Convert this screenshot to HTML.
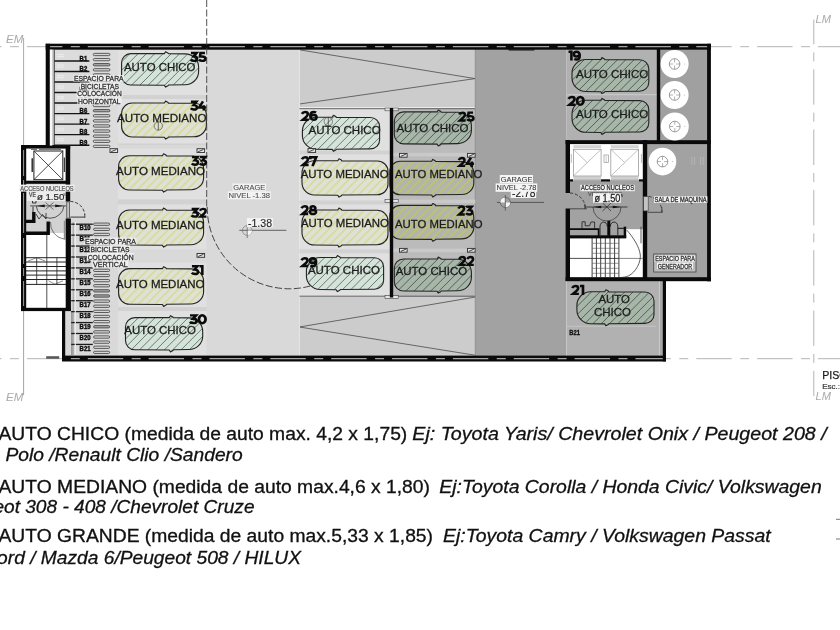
<!DOCTYPE html>
<html><head><meta charset="utf-8"><title>Garage plan</title>
<style>html,body{margin:0;padding:0;background:#fff;}body{width:840px;height:630px;overflow:hidden;position:relative;}svg{display:block;position:absolute;left:0;top:0;font-family:"Liberation Sans", sans-serif;will-change:transform;}text{white-space:pre;}</style></head><body>
<svg width="840" height="630" viewBox="0 0 840 630">
<rect x="0.00" y="0.00" width="840.00" height="630.00" fill="#ffffff" />
<line x1="0.00" y1="46.70" x2="840.00" y2="46.70" stroke="#b4b4b4" stroke-width="1.0" stroke-dasharray="35.4 8.45 9 8" stroke-dashoffset="-26.96"/>
<line x1="0.00" y1="358.70" x2="840.00" y2="358.70" stroke="#b4b4b4" stroke-width="1.0" stroke-dasharray="35.4 8.45 9 8" stroke-dashoffset="-26.96"/>
<line x1="23.60" y1="38.00" x2="23.60" y2="146.00" stroke="#a0a0a0" stroke-width="0.9" />
<line x1="23.60" y1="311.00" x2="23.60" y2="395.00" stroke="#989898" stroke-width="0.9" />
<line x1="813.80" y1="19.50" x2="813.80" y2="396.00" stroke="#b4b4b4" stroke-width="1.0" stroke-dasharray="35.4 8 9 7.9" stroke-dashoffset="-49.8"/>
<text x="6.00" y="42.90" font-size="11.3" fill="#a9a9a9" font-weight="normal" text-anchor="start" font-style="italic" textLength="17.3" lengthAdjust="spacingAndGlyphs">EM</text>
<text x="6.00" y="401.00" font-size="11.3" fill="#a9a9a9" font-weight="normal" text-anchor="start" font-style="italic" textLength="17.3" lengthAdjust="spacingAndGlyphs">EM</text>
<text x="815.60" y="22.90" font-size="11.3" fill="#a9a9a9" font-weight="normal" text-anchor="start" font-style="italic" textLength="15.4" lengthAdjust="spacingAndGlyphs">LM</text>
<text x="815.60" y="400.00" font-size="11.3" fill="#a9a9a9" font-weight="normal" text-anchor="start" font-style="italic" textLength="15.4" lengthAdjust="spacingAndGlyphs">LM</text>
<text x="822.20" y="378.70" font-size="10.6" fill="#1a1a1a" font-weight="normal" text-anchor="start" font-style="normal" stroke="#1a1a1a" stroke-width="0.25">PISO</text>
<text x="822.20" y="389.20" font-size="8" fill="#333" font-weight="normal" text-anchor="start" font-style="normal" stroke="#333" stroke-width="0.2">Esc.:</text>
<line x1="836.00" y1="519.30" x2="840.00" y2="519.30" stroke="#666" stroke-width="0.9" />
<line x1="836.00" y1="539.00" x2="840.00" y2="539.00" stroke="#666" stroke-width="0.9" />
<rect x="50.00" y="49.00" width="249.50" height="97.00" fill="#d9d9d9" />
<rect x="70.00" y="145.00" width="229.50" height="167.00" fill="#d9d9d9" />
<rect x="64.00" y="310.00" width="235.50" height="46.00" fill="#d9d9d9" />
<rect x="299.50" y="49.00" width="175.80" height="59.50" fill="#cccccc" />
<rect x="299.50" y="297.00" width="175.80" height="59.00" fill="#cccccc" />
<rect x="299.50" y="108.50" width="90.50" height="188.50" fill="#e0e0e0" />
<rect x="393.00" y="108.50" width="82.30" height="188.50" fill="#bbbbbb" />
<rect x="475.30" y="49.00" width="233.50" height="232.00" fill="#a2a2a2" />
<rect x="475.30" y="280.00" width="188.70" height="76.00" fill="#a2a2a2" />
<rect x="26.00" y="183.00" width="40.00" height="50.00" fill="#d2d2d2" />
<rect x="118.00" y="49.50" width="88.40" height="45.50" fill="#e0e0e0" />
<rect x="118.00" y="99.00" width="88.40" height="44.60" fill="#e0e0e0" />
<rect x="118.00" y="148.50" width="88.40" height="51.00" fill="#e0e0e0" />
<rect x="118.00" y="204.30" width="88.40" height="45.20" fill="#e0e0e0" />
<rect x="118.00" y="262.50" width="88.40" height="44.50" fill="#e0e0e0" />
<rect x="118.00" y="311.00" width="88.40" height="44.50" fill="#e0e0e0" />
<rect x="118.00" y="95.00" width="88.40" height="4.00" fill="#d2d2d2" />
<rect x="118.00" y="143.60" width="88.40" height="1.60" fill="#d2d2d2" />
<rect x="118.00" y="199.50" width="88.40" height="4.80" fill="#d2d2d2" />
<rect x="118.00" y="307.00" width="88.40" height="4.00" fill="#d2d2d2" />
<rect x="50.00" y="49.50" width="68.00" height="100.00" fill="#dcdcdc" />
<line x1="299.50" y1="49.80" x2="475.00" y2="78.60" stroke="#4a4a4a" stroke-width="0.8" />
<line x1="299.50" y1="104.00" x2="475.00" y2="78.60" stroke="#4a4a4a" stroke-width="0.8" />
<line x1="299.50" y1="327.00" x2="475.50" y2="297.00" stroke="#4a4a4a" stroke-width="0.8" />
<line x1="299.50" y1="327.00" x2="475.50" y2="355.30" stroke="#4a4a4a" stroke-width="0.8" />
<line x1="299.50" y1="107.50" x2="475.30" y2="107.50" stroke="#ececec" stroke-width="1" />
<line x1="299.50" y1="108.70" x2="475.30" y2="108.70" stroke="#555" stroke-width="0.9" />
<line x1="299.50" y1="296.20" x2="475.30" y2="296.20" stroke="#555" stroke-width="0.9" />
<line x1="299.50" y1="49.00" x2="299.50" y2="108.00" stroke="#e4e4e4" stroke-width="1" />
<line x1="299.50" y1="297.00" x2="299.50" y2="356.00" stroke="#e4e4e4" stroke-width="1" />
<line x1="475.30" y1="49.00" x2="475.30" y2="356.00" stroke="#8e8e8e" stroke-width="1" />
<rect x="299.50" y="150.50" width="90.50" height="4.00" fill="#d2d2d2" />
<rect x="299.50" y="200.50" width="90.50" height="4.00" fill="#d2d2d2" />
<rect x="299.50" y="249.30" width="90.50" height="4.00" fill="#d2d2d2" />
<rect x="393.00" y="152.80" width="82.30" height="3.60" fill="#c9c9c9" />
<rect x="393.00" y="199.60" width="82.30" height="3.60" fill="#c9c9c9" />
<rect x="393.00" y="248.60" width="82.30" height="3.60" fill="#c9c9c9" />
<rect x="566.50" y="49.50" width="90.50" height="91.00" fill="#b1b1b1" />
<line x1="566.50" y1="94.70" x2="657.00" y2="94.70" stroke="#cfcfcf" stroke-width="0.9" />
<rect x="660.00" y="49.50" width="47.00" height="91.00" fill="#a0a0a0" />
<rect x="566.50" y="281.00" width="93.00" height="75.00" fill="#b1b1b1" />
<line x1="566.50" y1="326.30" x2="656.00" y2="326.30" stroke="#c6c6c6" stroke-width="0.9" />
<line x1="566.50" y1="281.00" x2="566.50" y2="356.00" stroke="#cdcdcd" stroke-width="0.8" />
<line x1="566.50" y1="49.50" x2="566.50" y2="140.00" stroke="#c2c2c2" stroke-width="0.8" />
<line x1="659.40" y1="281.00" x2="659.40" y2="356.00" stroke="#d0d0d0" stroke-width="0.9" />
<rect x="660.00" y="281.00" width="3.00" height="75.00" fill="#a8a8a8" />
<g id="walls">
<rect x="45.70" y="43.70" width="665.20" height="6.00" fill="#0a0a0a" />
<line x1="48.00" y1="46.70" x2="708.00" y2="46.70" stroke="#a6a6a6" stroke-width="1.3" stroke-dasharray="35.4 8.45 9 8" stroke-dashoffset="-39.81"/>
<rect x="508.60" y="49.40" width="25.70" height="1.10" fill="#0a0a0a" />
<rect x="62.00" y="355.60" width="604.00" height="5.90" fill="#0a0a0a" />
<line x1="64.00" y1="358.60" x2="664.00" y2="358.60" stroke="#a6a6a6" stroke-width="1.3" stroke-dasharray="35.4 8.45 9 8" stroke-dashoffset="-23.81"/>
<rect x="46.20" y="356.20" width="13.00" height="2.60" fill="#5a5a5a" />
<rect x="45.70" y="43.80" width="4.40" height="103.00" fill="#0a0a0a" />
<line x1="53.00" y1="49.50" x2="53.00" y2="146.00" stroke="#8a8a8a" stroke-width="0.8" />
<line x1="54.40" y1="49.50" x2="54.40" y2="146.00" stroke="#333" stroke-width="0.8" />
<rect x="62.00" y="310.00" width="3.20" height="50.00" fill="#0a0a0a" />
<rect x="26.00" y="148.00" width="40.00" height="34.00" fill="#ffffff" />
<rect x="26.00" y="235.00" width="40.00" height="73.00" fill="#ffffff" />
<rect x="21.00" y="145.00" width="49.20" height="3.60" fill="#0a0a0a" />
<rect x="21.00" y="145.00" width="5.20" height="166.00" fill="#0a0a0a" />
<rect x="26.00" y="180.70" width="44.00" height="3.10" fill="#0a0a0a" />
<rect x="65.60" y="145.00" width="4.60" height="56.50" fill="#0a0a0a" />
<rect x="65.70" y="218.50" width="5.20" height="92.50" fill="#0a0a0a" />
<rect x="66.80" y="201.80" width="2.50" height="16.40" fill="#d4d4d4" stroke="#2a2a2a" stroke-width="0.8"/>
<rect x="21.00" y="307.80" width="50.00" height="3.30" fill="#0a0a0a" />
<line x1="23.60" y1="150.00" x2="23.60" y2="306.00" stroke="#c8c8c8" stroke-width="0.8" stroke-dasharray="26 4 8 5 40 5"/>
<path d="M26,221.4 H33.8 V212" fill="none" stroke="#0a0a0a" stroke-width="3.4"/>
<path d="M26,233.2 H48.2 V221.5" fill="none" stroke="#0a0a0a" stroke-width="3.4"/>
<rect x="33.90" y="151.00" width="28.90" height="28.70" fill="#ffffff" stroke="#1f1f1f" stroke-width="1.0"/>
<line x1="33.90" y1="151.00" x2="62.80" y2="179.70" stroke="#2a2a2a" stroke-width="0.85" />
<line x1="62.80" y1="151.00" x2="33.90" y2="179.70" stroke="#2a2a2a" stroke-width="0.85" />
<line x1="32.20" y1="158.30" x2="32.20" y2="172.00" stroke="#222" stroke-width="1.4" />
<line x1="64.40" y1="157.50" x2="64.40" y2="172.00" stroke="#3a3a3a" stroke-width="1.3" />
<line x1="31.00" y1="149.30" x2="62.00" y2="149.30" stroke="#555" stroke-width="1.0" stroke-dasharray="6 2 22 3"/>
<line x1="26.00" y1="257.70" x2="66.00" y2="257.70" stroke="#161616" stroke-width="0.95" />
<line x1="26.00" y1="262.00" x2="66.00" y2="262.00" stroke="#161616" stroke-width="0.95" />
<line x1="26.00" y1="266.50" x2="66.00" y2="266.50" stroke="#161616" stroke-width="0.95" />
<line x1="26.00" y1="270.90" x2="66.00" y2="270.90" stroke="#161616" stroke-width="0.95" />
<line x1="26.00" y1="275.10" x2="66.00" y2="275.10" stroke="#161616" stroke-width="0.95" />
<line x1="26.00" y1="279.50" x2="66.00" y2="279.50" stroke="#161616" stroke-width="0.95" />
<line x1="26.00" y1="284.40" x2="66.00" y2="284.40" stroke="#161616" stroke-width="0.95" />
<line x1="36.70" y1="257.70" x2="36.70" y2="284.40" stroke="#222" stroke-width="0.8" />
<line x1="46.80" y1="235.00" x2="46.80" y2="308.00" stroke="#222" stroke-width="0.8" />
<line x1="56.90" y1="257.70" x2="56.90" y2="284.40" stroke="#222" stroke-width="0.8" />
<path d="M28,261 L36.7,257.7 L45,261" fill="none" stroke="#444" stroke-width="0.6"/>
<path d="M48.5,280.8 L55,284.2 L63,280.8" fill="none" stroke="#444" stroke-width="0.6"/>
<rect x="570.00" y="143.60" width="73.00" height="36.50" fill="#ffffff" />
<rect x="570.00" y="238.00" width="73.00" height="39.50" fill="#ffffff" />
<rect x="626.00" y="229.20" width="17.00" height="9.00" fill="#ffffff" />
<rect x="565.60" y="140.20" width="145.30" height="3.90" fill="#0a0a0a" />
<rect x="656.80" y="49.00" width="3.40" height="93.00" fill="#0a0a0a" />
<rect x="707.10" y="43.80" width="3.80" height="237.50" fill="#0a0a0a" />
<rect x="565.60" y="140.00" width="4.40" height="53.00" fill="#0a0a0a" />
<rect x="565.60" y="208.50" width="4.40" height="72.50" fill="#0a0a0a" />
<rect x="642.80" y="140.00" width="4.40" height="141.00" fill="#0a0a0a" />
<rect x="565.60" y="277.20" width="145.30" height="4.00" fill="#0a0a0a" />
<rect x="569.50" y="235.30" width="56.70" height="3.10" fill="#0a0a0a" />
<rect x="570.00" y="179.30" width="3.00" height="2.20" fill="#0a0a0a" />
<rect x="601.00" y="179.30" width="9.00" height="2.20" fill="#0a0a0a" />
<rect x="639.00" y="179.30" width="4.00" height="2.20" fill="#0a0a0a" />
<rect x="662.80" y="281.00" width="3.20" height="80.40" fill="#0a0a0a" />
<rect x="573.40" y="145.20" width="27.80" height="3.00" fill="#d4d4d4" />
<rect x="573.40" y="176.20" width="27.80" height="3.20" fill="#cfcfcf" />
<line x1="573.40" y1="179.60" x2="601.20" y2="179.60" stroke="#9a9a9a" stroke-width="0.6" />
<rect x="573.40" y="149.30" width="27.70" height="26.70" fill="#ffffff" stroke="#9c9c9c" stroke-width="0.8"/>
<line x1="573.40" y1="176.00" x2="601.10" y2="149.30" stroke="#a5a5a5" stroke-width="0.7" />
<line x1="573.40" y1="149.30" x2="587.20" y2="162.60" stroke="#a5a5a5" stroke-width="0.7" />
<rect x="610.80" y="145.20" width="27.80" height="3.00" fill="#d4d4d4" />
<rect x="610.80" y="176.20" width="27.80" height="3.20" fill="#cfcfcf" />
<line x1="610.80" y1="179.60" x2="638.60" y2="179.60" stroke="#9a9a9a" stroke-width="0.6" />
<rect x="610.80" y="149.30" width="27.70" height="26.70" fill="#ffffff" stroke="#9c9c9c" stroke-width="0.8"/>
<line x1="610.80" y1="176.00" x2="638.50" y2="149.30" stroke="#a5a5a5" stroke-width="0.7" />
<line x1="610.80" y1="149.30" x2="624.60" y2="162.60" stroke="#a5a5a5" stroke-width="0.7" />
<rect x="604.00" y="155.00" width="4.40" height="7.60" fill="#fff" stroke="#999" stroke-width="0.7"/>
<line x1="606.20" y1="155.50" x2="606.20" y2="162.00" stroke="#aaa" stroke-width="0.6" />
<line x1="571.30" y1="154.00" x2="571.30" y2="163.00" stroke="#bbb" stroke-width="1" />
<line x1="641.40" y1="154.00" x2="641.40" y2="163.00" stroke="#bbb" stroke-width="1" />
<line x1="592.10" y1="238.00" x2="592.10" y2="277.20" stroke="#1e1e1e" stroke-width="0.85" />
<line x1="596.40" y1="238.00" x2="596.40" y2="277.20" stroke="#1e1e1e" stroke-width="0.85" />
<line x1="600.70" y1="238.00" x2="600.70" y2="277.20" stroke="#1e1e1e" stroke-width="0.85" />
<line x1="605.30" y1="238.00" x2="605.30" y2="277.20" stroke="#1e1e1e" stroke-width="0.85" />
<line x1="610.00" y1="238.00" x2="610.00" y2="277.20" stroke="#1e1e1e" stroke-width="0.85" />
<line x1="614.60" y1="238.00" x2="614.60" y2="277.20" stroke="#1e1e1e" stroke-width="0.85" />
<line x1="618.90" y1="238.00" x2="618.90" y2="277.20" stroke="#1e1e1e" stroke-width="0.85" />
<line x1="592.10" y1="243.30" x2="618.90" y2="243.30" stroke="#555" stroke-width="0.6" />
<line x1="592.10" y1="248.30" x2="618.90" y2="248.30" stroke="#555" stroke-width="0.6" />
<line x1="592.10" y1="253.30" x2="618.90" y2="253.30" stroke="#555" stroke-width="0.6" />
<line x1="592.10" y1="263.30" x2="618.90" y2="263.30" stroke="#555" stroke-width="0.6" />
<line x1="592.10" y1="268.30" x2="618.90" y2="268.30" stroke="#555" stroke-width="0.6" />
<line x1="592.10" y1="273.30" x2="618.90" y2="273.30" stroke="#555" stroke-width="0.6" />
<line x1="570.00" y1="258.40" x2="592.10" y2="258.40" stroke="#222" stroke-width="0.8" />
<line x1="618.90" y1="258.40" x2="642.80" y2="258.40" stroke="#555" stroke-width="0.7" />
<line x1="592.10" y1="258.40" x2="618.90" y2="258.40" stroke="#222" stroke-width="0.8" />
<path d="M626.7,230 C633,237 639.5,247 640.3,255 C641,262 636,272 628.7,275.8 C626,277 623,277.4 620.3,277.5" fill="none" stroke="#2a2a2a" stroke-width="0.75"/>
<line x1="641.00" y1="226.70" x2="641.00" y2="243.30" stroke="#333" stroke-width="0.8" />
<path d="M570,229.2 H598.6 V236" fill="none" stroke="#0a0a0a" stroke-width="1.7"/>
<path d="M582,228.5 V221.8 H585.2 V225.8 H589.5 L591,222 H594.6 V228.5" fill="none" stroke="#1a1a1a" stroke-width="0.8"/>
<path d="M600,235 V226.5 C600.2,220.6 607,220.6 607.3,226.5" fill="none" stroke="#1a1a1a" stroke-width="0.9"/>
<path d="M610.3,226.5 C610.6,220.6 617.6,220.6 617.8,226.5 V235" fill="none" stroke="#1a1a1a" stroke-width="0.9"/>
<rect x="607.30" y="220.80" width="3.00" height="15.00" fill="#0a0a0a" />
<line x1="617.80" y1="228.30" x2="624.00" y2="228.30" stroke="#111" stroke-width="1.0" />
<rect x="623.70" y="226.70" width="2.50" height="11.20" fill="#0a0a0a" />
</g>
<g id="cars">
<clipPath id="cc1"><path d="M130.71,53.60 L164.40,53.60 l1.2,-1.9 l2.4,1.3 l0.5,0.8 L185.10,53.90 C192.52,53.90 198.60,59.68 198.60,67.10 L198.60,71.50 C198.60,78.92 192.52,84.70 185.10,84.70 L168.50,85.00 l-0.5,0.8 l-2.4,1.3 l-1.2,-1.9 L130.71,85.00 C125.70,85.00 121.60,80.90 121.60,75.89 L121.60,62.71 C121.60,57.70 125.70,53.60 130.71,53.60 Z"/></clipPath>
<path d="M130.71,53.60 L164.40,53.60 l1.2,-1.9 l2.4,1.3 l0.5,0.8 L185.10,53.90 C192.52,53.90 198.60,59.68 198.60,67.10 L198.60,71.50 C198.60,78.92 192.52,84.70 185.10,84.70 L168.50,85.00 l-0.5,0.8 l-2.4,1.3 l-1.2,-1.9 L130.71,85.00 C125.70,85.00 121.60,80.90 121.60,75.89 L121.60,62.71 C121.60,57.70 125.70,53.60 130.71,53.60 Z" fill="#d6e3da"/>
<path d="M87.19,88.00 l37.40,-37.40 M95.49,88.00 l37.40,-37.40 M103.79,88.00 l37.40,-37.40 M112.09,88.00 l37.40,-37.40 M120.39,88.00 l37.40,-37.40 M128.69,88.00 l37.40,-37.40 M136.99,88.00 l37.40,-37.40 M145.29,88.00 l37.40,-37.40 M153.59,88.00 l37.40,-37.40 M161.89,88.00 l37.40,-37.40 M170.19,88.00 l37.40,-37.40 M178.49,88.00 l37.40,-37.40 M186.79,88.00 l37.40,-37.40 M195.09,88.00 l37.40,-37.40" fill="none" stroke="#365241" stroke-width="0.7" clip-path="url(#cc1)"/>
<path d="M130.71,53.60 L164.40,53.60 l1.2,-1.9 l2.4,1.3 l0.5,0.8 L185.10,53.90 C192.52,53.90 198.60,59.68 198.60,67.10 L198.60,71.50 C198.60,78.92 192.52,84.70 185.10,84.70 L168.50,85.00 l-0.5,0.8 l-2.4,1.3 l-1.2,-1.9 L130.71,85.00 C125.70,85.00 121.60,80.90 121.60,75.89 L121.60,62.71 C121.60,57.70 125.70,53.60 130.71,53.60 Z" fill="none" stroke="#242424" stroke-width="1.12" stroke-linejoin="round"/>
<clipPath id="cc2"><path d="M132.14,103.00 L164.40,103.00 l1.2,-1.9 l2.4,1.3 l0.5,0.8 L194.16,103.30 C200.89,103.30 206.40,108.51 206.40,115.24 L206.40,124.76 C206.40,131.49 200.89,136.70 194.16,136.70 L168.50,137.00 l-0.5,0.8 l-2.4,1.3 l-1.2,-1.9 L132.14,137.00 C126.34,137.00 121.60,132.26 121.60,126.46 L121.60,113.54 C121.60,107.74 126.34,103.00 132.14,103.00 Z"/></clipPath>
<path d="M132.14,103.00 L164.40,103.00 l1.2,-1.9 l2.4,1.3 l0.5,0.8 L194.16,103.30 C200.89,103.30 206.40,108.51 206.40,115.24 L206.40,124.76 C206.40,131.49 200.89,136.70 194.16,136.70 L168.50,137.00 l-0.5,0.8 l-2.4,1.3 l-1.2,-1.9 L132.14,137.00 C126.34,137.00 121.60,132.26 121.60,126.46 L121.60,113.54 C121.60,107.74 126.34,103.00 132.14,103.00 Z" fill="#dfe0d6"/>
<path d="M89.82,140.00 l40.00,-40.00 M98.12,140.00 l40.00,-40.00 M106.42,140.00 l40.00,-40.00 M114.72,140.00 l40.00,-40.00 M123.02,140.00 l40.00,-40.00 M131.32,140.00 l40.00,-40.00 M139.62,140.00 l40.00,-40.00 M147.92,140.00 l40.00,-40.00 M156.22,140.00 l40.00,-40.00 M164.52,140.00 l40.00,-40.00 M172.82,140.00 l40.00,-40.00 M181.12,140.00 l40.00,-40.00 M189.42,140.00 l40.00,-40.00 M197.72,140.00 l40.00,-40.00 M206.02,140.00 l40.00,-40.00" fill="none" stroke="#d7dc98" stroke-width="1.7" clip-path="url(#cc2)"/>
<path d="M132.14,103.00 L164.40,103.00 l1.2,-1.9 l2.4,1.3 l0.5,0.8 L194.16,103.30 C200.89,103.30 206.40,108.51 206.40,115.24 L206.40,124.76 C206.40,131.49 200.89,136.70 194.16,136.70 L168.50,137.00 l-0.5,0.8 l-2.4,1.3 l-1.2,-1.9 L132.14,137.00 C126.34,137.00 121.60,132.26 121.60,126.46 L121.60,113.54 C121.60,107.74 126.34,103.00 132.14,103.00 Z" fill="none" stroke="#242424" stroke-width="1.12" stroke-linejoin="round"/>
<circle cx="158.3" cy="126" r="4.2" fill="none" stroke="#444" stroke-width="0.6"/>
<line x1="158.30" y1="121.40" x2="158.30" y2="130.20" stroke="#333" stroke-width="0.7" />
<clipPath id="cc3"><path d="M129.23,155.70 L162.40,155.70 l1.2,-1.9 l2.4,1.3 l0.5,0.8 L191.25,156.00 C198.04,156.00 203.60,161.26 203.60,168.05 L203.60,177.65 C203.60,184.44 198.04,189.70 191.25,189.70 L166.50,190.00 l-0.5,0.8 l-2.4,1.3 l-1.2,-1.9 L129.23,190.00 C123.38,190.00 118.60,185.22 118.60,179.37 L118.60,166.33 C118.60,160.48 123.38,155.70 129.23,155.70 Z"/></clipPath>
<path d="M129.23,155.70 L162.40,155.70 l1.2,-1.9 l2.4,1.3 l0.5,0.8 L191.25,156.00 C198.04,156.00 203.60,161.26 203.60,168.05 L203.60,177.65 C203.60,184.44 198.04,189.70 191.25,189.70 L166.50,190.00 l-0.5,0.8 l-2.4,1.3 l-1.2,-1.9 L129.23,190.00 C123.38,190.00 118.60,185.22 118.60,179.37 L118.60,166.33 C118.60,160.48 123.38,155.70 129.23,155.70 Z" fill="#dfe0d6"/>
<path d="M84.36,193.00 l40.30,-40.30 M92.66,193.00 l40.30,-40.30 M100.96,193.00 l40.30,-40.30 M109.26,193.00 l40.30,-40.30 M117.56,193.00 l40.30,-40.30 M125.86,193.00 l40.30,-40.30 M134.16,193.00 l40.30,-40.30 M142.46,193.00 l40.30,-40.30 M150.76,193.00 l40.30,-40.30 M159.06,193.00 l40.30,-40.30 M167.36,193.00 l40.30,-40.30 M175.66,193.00 l40.30,-40.30 M183.96,193.00 l40.30,-40.30 M192.26,193.00 l40.30,-40.30 M200.56,193.00 l40.30,-40.30" fill="none" stroke="#d7dc98" stroke-width="1.7" clip-path="url(#cc3)"/>
<path d="M129.23,155.70 L162.40,155.70 l1.2,-1.9 l2.4,1.3 l0.5,0.8 L191.25,156.00 C198.04,156.00 203.60,161.26 203.60,168.05 L203.60,177.65 C203.60,184.44 198.04,189.70 191.25,189.70 L166.50,190.00 l-0.5,0.8 l-2.4,1.3 l-1.2,-1.9 L129.23,190.00 C123.38,190.00 118.60,185.22 118.60,179.37 L118.60,166.33 C118.60,160.48 123.38,155.70 129.23,155.70 Z" fill="none" stroke="#242424" stroke-width="1.12" stroke-linejoin="round"/>
<clipPath id="cc4"><path d="M129.45,210.00 L162.40,210.00 l1.2,-1.9 l2.4,1.3 l0.5,0.8 L191.00,210.30 C197.93,210.30 203.60,215.67 203.60,222.60 L203.60,232.40 C203.60,239.33 197.93,244.70 191.00,244.70 L166.50,245.00 l-0.5,0.8 l-2.4,1.3 l-1.2,-1.9 L129.45,245.00 C123.48,245.00 118.60,240.12 118.60,234.15 L118.60,220.85 C118.60,214.88 123.48,210.00 129.45,210.00 Z"/></clipPath>
<path d="M129.45,210.00 L162.40,210.00 l1.2,-1.9 l2.4,1.3 l0.5,0.8 L191.00,210.30 C197.93,210.30 203.60,215.67 203.60,222.60 L203.60,232.40 C203.60,239.33 197.93,244.70 191.00,244.70 L166.50,245.00 l-0.5,0.8 l-2.4,1.3 l-1.2,-1.9 L129.45,245.00 C123.48,245.00 118.60,240.12 118.60,234.15 L118.60,220.85 C118.60,214.88 123.48,210.00 129.45,210.00 Z" fill="#dfe0d6"/>
<path d="M83.58,248.00 l41.00,-41.00 M91.88,248.00 l41.00,-41.00 M100.18,248.00 l41.00,-41.00 M108.48,248.00 l41.00,-41.00 M116.78,248.00 l41.00,-41.00 M125.08,248.00 l41.00,-41.00 M133.38,248.00 l41.00,-41.00 M141.68,248.00 l41.00,-41.00 M149.98,248.00 l41.00,-41.00 M158.28,248.00 l41.00,-41.00 M166.58,248.00 l41.00,-41.00 M174.88,248.00 l41.00,-41.00 M183.18,248.00 l41.00,-41.00 M191.48,248.00 l41.00,-41.00 M199.78,248.00 l41.00,-41.00" fill="none" stroke="#d7dc98" stroke-width="1.7" clip-path="url(#cc4)"/>
<path d="M129.45,210.00 L162.40,210.00 l1.2,-1.9 l2.4,1.3 l0.5,0.8 L191.00,210.30 C197.93,210.30 203.60,215.67 203.60,222.60 L203.60,232.40 C203.60,239.33 197.93,244.70 191.00,244.70 L166.50,245.00 l-0.5,0.8 l-2.4,1.3 l-1.2,-1.9 L129.45,245.00 C123.48,245.00 118.60,240.12 118.60,234.15 L118.60,220.85 C118.60,214.88 123.48,210.00 129.45,210.00 Z" fill="none" stroke="#242424" stroke-width="1.12" stroke-linejoin="round"/>
<clipPath id="cc5"><path d="M129.67,268.60 L162.40,268.60 l1.2,-1.9 l2.4,1.3 l0.5,0.8 L190.75,268.90 C197.82,268.90 203.60,274.38 203.60,281.45 L203.60,291.45 C203.60,298.52 197.82,304.00 190.75,304.00 L166.50,304.30 l-0.5,0.8 l-2.4,1.3 l-1.2,-1.9 L129.67,304.30 C123.58,304.30 118.60,299.32 118.60,293.23 L118.60,279.67 C118.60,273.58 123.58,268.60 129.67,268.60 Z"/></clipPath>
<path d="M129.67,268.60 L162.40,268.60 l1.2,-1.9 l2.4,1.3 l0.5,0.8 L190.75,268.90 C197.82,268.90 203.60,274.38 203.60,281.45 L203.60,291.45 C203.60,298.52 197.82,304.00 190.75,304.00 L166.50,304.30 l-0.5,0.8 l-2.4,1.3 l-1.2,-1.9 L129.67,304.30 C123.58,304.30 118.60,299.32 118.60,293.23 L118.60,279.67 C118.60,273.58 123.58,268.60 129.67,268.60 Z" fill="#dfe0d6"/>
<path d="M77.13,307.30 l41.70,-41.70 M85.43,307.30 l41.70,-41.70 M93.73,307.30 l41.70,-41.70 M102.03,307.30 l41.70,-41.70 M110.33,307.30 l41.70,-41.70 M118.63,307.30 l41.70,-41.70 M126.93,307.30 l41.70,-41.70 M135.23,307.30 l41.70,-41.70 M143.53,307.30 l41.70,-41.70 M151.83,307.30 l41.70,-41.70 M160.13,307.30 l41.70,-41.70 M168.43,307.30 l41.70,-41.70 M176.73,307.30 l41.70,-41.70 M185.03,307.30 l41.70,-41.70 M193.33,307.30 l41.70,-41.70 M201.63,307.30 l41.70,-41.70" fill="none" stroke="#d7dc98" stroke-width="1.7" clip-path="url(#cc5)"/>
<path d="M129.67,268.60 L162.40,268.60 l1.2,-1.9 l2.4,1.3 l0.5,0.8 L190.75,268.90 C197.82,268.90 203.60,274.38 203.60,281.45 L203.60,291.45 C203.60,298.52 197.82,304.00 190.75,304.00 L166.50,304.30 l-0.5,0.8 l-2.4,1.3 l-1.2,-1.9 L129.67,304.30 C123.58,304.30 118.60,299.32 118.60,293.23 L118.60,279.67 C118.60,273.58 123.58,268.60 129.67,268.60 Z" fill="none" stroke="#242424" stroke-width="1.12" stroke-linejoin="round"/>
<clipPath id="cc6"><path d="M134.84,317.60 L169.30,317.60 l1.2,-1.9 l2.4,1.3 l0.5,0.8 L188.85,317.90 C196.47,317.90 202.70,323.83 202.70,331.45 L202.70,335.95 C202.70,343.57 196.47,349.50 188.85,349.50 L173.40,349.80 l-0.5,0.8 l-2.4,1.3 l-1.2,-1.9 L134.84,349.80 C129.70,349.80 125.50,345.60 125.50,340.46 L125.50,326.94 C125.50,321.80 129.70,317.60 134.84,317.60 Z"/></clipPath>
<path d="M134.84,317.60 L169.30,317.60 l1.2,-1.9 l2.4,1.3 l0.5,0.8 L188.85,317.90 C196.47,317.90 202.70,323.83 202.70,331.45 L202.70,335.95 C202.70,343.57 196.47,349.50 188.85,349.50 L173.40,349.80 l-0.5,0.8 l-2.4,1.3 l-1.2,-1.9 L134.84,349.80 C129.70,349.80 125.50,345.60 125.50,340.46 L125.50,326.94 C125.50,321.80 129.70,317.60 134.84,317.60 Z" fill="#d6e3da"/>
<path d="M95.07,352.80 l38.20,-38.20 M103.37,352.80 l38.20,-38.20 M111.67,352.80 l38.20,-38.20 M119.97,352.80 l38.20,-38.20 M128.27,352.80 l38.20,-38.20 M136.57,352.80 l38.20,-38.20 M144.87,352.80 l38.20,-38.20 M153.17,352.80 l38.20,-38.20 M161.47,352.80 l38.20,-38.20 M169.77,352.80 l38.20,-38.20 M178.07,352.80 l38.20,-38.20 M186.37,352.80 l38.20,-38.20 M194.67,352.80 l38.20,-38.20 M202.97,352.80 l38.20,-38.20" fill="none" stroke="#365241" stroke-width="0.7" clip-path="url(#cc6)"/>
<path d="M134.84,317.60 L169.30,317.60 l1.2,-1.9 l2.4,1.3 l0.5,0.8 L188.85,317.90 C196.47,317.90 202.70,323.83 202.70,331.45 L202.70,335.95 C202.70,343.57 196.47,349.50 188.85,349.50 L173.40,349.80 l-0.5,0.8 l-2.4,1.3 l-1.2,-1.9 L134.84,349.80 C129.70,349.80 125.50,345.60 125.50,340.46 L125.50,326.94 C125.50,321.80 129.70,317.60 134.84,317.60 Z" fill="none" stroke="#242424" stroke-width="1.12" stroke-linejoin="round"/>
<clipPath id="cc7"><path d="M316.16,117.20 L332.20,117.20 l1.2,-1.9 l2.4,1.3 l0.5,0.8 L370.32,117.50 C375.42,117.50 379.60,121.38 379.60,126.48 L379.60,139.92 C379.60,145.02 375.42,148.90 370.32,148.90 L336.30,149.20 l-0.5,0.8 l-2.4,1.3 l-1.2,-1.9 L316.16,149.20 C308.59,149.20 302.40,143.01 302.40,135.44 L302.40,130.96 C302.40,123.39 308.59,117.20 316.16,117.20 Z"/></clipPath>
<path d="M316.16,117.20 L332.20,117.20 l1.2,-1.9 l2.4,1.3 l0.5,0.8 L370.32,117.50 C375.42,117.50 379.60,121.38 379.60,126.48 L379.60,139.92 C379.60,145.02 375.42,148.90 370.32,148.90 L336.30,149.20 l-0.5,0.8 l-2.4,1.3 l-1.2,-1.9 L316.16,149.20 C308.59,149.20 302.40,143.01 302.40,135.44 L302.40,130.96 C302.40,123.39 308.59,117.20 316.16,117.20 Z" fill="#d6e3da"/>
<path d="M265.18,152.20 l38.00,-38.00 M273.48,152.20 l38.00,-38.00 M281.78,152.20 l38.00,-38.00 M290.08,152.20 l38.00,-38.00 M298.38,152.20 l38.00,-38.00 M306.68,152.20 l38.00,-38.00 M314.98,152.20 l38.00,-38.00 M323.28,152.20 l38.00,-38.00 M331.58,152.20 l38.00,-38.00 M339.88,152.20 l38.00,-38.00 M348.18,152.20 l38.00,-38.00 M356.48,152.20 l38.00,-38.00 M364.78,152.20 l38.00,-38.00 M373.08,152.20 l38.00,-38.00 M381.38,152.20 l38.00,-38.00" fill="none" stroke="#365241" stroke-width="0.7" clip-path="url(#cc7)"/>
<path d="M316.16,117.20 L332.20,117.20 l1.2,-1.9 l2.4,1.3 l0.5,0.8 L370.32,117.50 C375.42,117.50 379.60,121.38 379.60,126.48 L379.60,139.92 C379.60,145.02 375.42,148.90 370.32,148.90 L336.30,149.20 l-0.5,0.8 l-2.4,1.3 l-1.2,-1.9 L316.16,149.20 C308.59,149.20 302.40,143.01 302.40,135.44 L302.40,130.96 C302.40,123.39 308.59,117.20 316.16,117.20 Z" fill="none" stroke="#242424" stroke-width="1.12" stroke-linejoin="round"/>
<circle cx="328.3" cy="121.6" r="4.2" fill="none" stroke="#444" stroke-width="0.6"/>
<line x1="328.30" y1="117.00" x2="328.30" y2="125.80" stroke="#333" stroke-width="0.7" />
<clipPath id="cc8"><path d="M314.35,160.70 L337.80,160.70 l1.2,-1.9 l2.4,1.3 l0.5,0.8 L377.37,161.00 C383.22,161.00 388.00,165.48 388.00,171.33 L388.00,184.37 C388.00,190.22 383.22,194.70 377.37,194.70 L341.90,195.00 l-0.5,0.8 l-2.4,1.3 l-1.2,-1.9 L314.35,195.00 C307.56,195.00 302.00,189.44 302.00,182.65 L302.00,173.05 C302.00,166.26 307.56,160.70 314.35,160.70 Z"/></clipPath>
<path d="M314.35,160.70 L337.80,160.70 l1.2,-1.9 l2.4,1.3 l0.5,0.8 L377.37,161.00 C383.22,161.00 388.00,165.48 388.00,171.33 L388.00,184.37 C388.00,190.22 383.22,194.70 377.37,194.70 L341.90,195.00 l-0.5,0.8 l-2.4,1.3 l-1.2,-1.9 L314.35,195.00 C307.56,195.00 302.00,189.44 302.00,182.65 L302.00,173.05 C302.00,166.26 307.56,160.70 314.35,160.70 Z" fill="#dfe0d6"/>
<path d="M263.97,198.00 l40.30,-40.30 M272.27,198.00 l40.30,-40.30 M280.57,198.00 l40.30,-40.30 M288.87,198.00 l40.30,-40.30 M297.17,198.00 l40.30,-40.30 M305.47,198.00 l40.30,-40.30 M313.77,198.00 l40.30,-40.30 M322.07,198.00 l40.30,-40.30 M330.37,198.00 l40.30,-40.30 M338.67,198.00 l40.30,-40.30 M346.97,198.00 l40.30,-40.30 M355.27,198.00 l40.30,-40.30 M363.57,198.00 l40.30,-40.30 M371.87,198.00 l40.30,-40.30 M380.17,198.00 l40.30,-40.30 M388.47,198.00 l40.30,-40.30" fill="none" stroke="#d7dc98" stroke-width="1.7" clip-path="url(#cc8)"/>
<path d="M314.35,160.70 L337.80,160.70 l1.2,-1.9 l2.4,1.3 l0.5,0.8 L377.37,161.00 C383.22,161.00 388.00,165.48 388.00,171.33 L388.00,184.37 C388.00,190.22 383.22,194.70 377.37,194.70 L341.90,195.00 l-0.5,0.8 l-2.4,1.3 l-1.2,-1.9 L314.35,195.00 C307.56,195.00 302.00,189.44 302.00,182.65 L302.00,173.05 C302.00,166.26 307.56,160.70 314.35,160.70 Z" fill="none" stroke="#242424" stroke-width="1.12" stroke-linejoin="round"/>
<clipPath id="cc9"><path d="M314.60,210.00 L337.80,210.00 l1.2,-1.9 l2.4,1.3 l0.5,0.8 L377.15,210.30 C383.12,210.30 388.00,214.88 388.00,220.85 L388.00,234.15 C388.00,240.12 383.12,244.70 377.15,244.70 L341.90,245.00 l-0.5,0.8 l-2.4,1.3 l-1.2,-1.9 L314.60,245.00 C307.67,245.00 302.00,239.33 302.00,232.40 L302.00,222.60 C302.00,215.67 307.67,210.00 314.60,210.00 Z"/></clipPath>
<path d="M314.60,210.00 L337.80,210.00 l1.2,-1.9 l2.4,1.3 l0.5,0.8 L377.15,210.30 C383.12,210.30 388.00,214.88 388.00,220.85 L388.00,234.15 C388.00,240.12 383.12,244.70 377.15,244.70 L341.90,245.00 l-0.5,0.8 l-2.4,1.3 l-1.2,-1.9 L314.60,245.00 C307.67,245.00 302.00,239.33 302.00,232.40 L302.00,222.60 C302.00,215.67 307.67,210.00 314.60,210.00 Z" fill="#dfe0d6"/>
<path d="M268.44,248.00 l41.00,-41.00 M276.74,248.00 l41.00,-41.00 M285.04,248.00 l41.00,-41.00 M293.34,248.00 l41.00,-41.00 M301.64,248.00 l41.00,-41.00 M309.94,248.00 l41.00,-41.00 M318.24,248.00 l41.00,-41.00 M326.54,248.00 l41.00,-41.00 M334.84,248.00 l41.00,-41.00 M343.14,248.00 l41.00,-41.00 M351.44,248.00 l41.00,-41.00 M359.74,248.00 l41.00,-41.00 M368.04,248.00 l41.00,-41.00 M376.34,248.00 l41.00,-41.00 M384.64,248.00 l41.00,-41.00" fill="none" stroke="#d7dc98" stroke-width="1.7" clip-path="url(#cc9)"/>
<path d="M314.60,210.00 L337.80,210.00 l1.2,-1.9 l2.4,1.3 l0.5,0.8 L377.15,210.30 C383.12,210.30 388.00,214.88 388.00,220.85 L388.00,234.15 C388.00,240.12 383.12,244.70 377.15,244.70 L341.90,245.00 l-0.5,0.8 l-2.4,1.3 l-1.2,-1.9 L314.60,245.00 C307.67,245.00 302.00,239.33 302.00,232.40 L302.00,222.60 C302.00,215.67 307.67,210.00 314.60,210.00 Z" fill="none" stroke="#242424" stroke-width="1.12" stroke-linejoin="round"/>
<clipPath id="cc10"><path d="M320.16,257.50 L336.20,257.50 l1.2,-1.9 l2.4,1.3 l0.5,0.8 L374.32,257.80 C379.42,257.80 383.60,261.68 383.60,266.78 L383.60,280.22 C383.60,285.32 379.42,289.20 374.32,289.20 L340.30,289.50 l-0.5,0.8 l-2.4,1.3 l-1.2,-1.9 L320.16,289.50 C312.59,289.50 306.40,283.31 306.40,275.74 L306.40,271.26 C306.40,263.69 312.59,257.50 320.16,257.50 Z"/></clipPath>
<path d="M320.16,257.50 L336.20,257.50 l1.2,-1.9 l2.4,1.3 l0.5,0.8 L374.32,257.80 C379.42,257.80 383.60,261.68 383.60,266.78 L383.60,280.22 C383.60,285.32 379.42,289.20 374.32,289.20 L340.30,289.50 l-0.5,0.8 l-2.4,1.3 l-1.2,-1.9 L320.16,289.50 C312.59,289.50 306.40,283.31 306.40,275.74 L306.40,271.26 C306.40,263.69 312.59,257.50 320.16,257.50 Z" fill="#d6e3da"/>
<path d="M273.24,292.50 l38.00,-38.00 M281.54,292.50 l38.00,-38.00 M289.84,292.50 l38.00,-38.00 M298.14,292.50 l38.00,-38.00 M306.44,292.50 l38.00,-38.00 M314.74,292.50 l38.00,-38.00 M323.04,292.50 l38.00,-38.00 M331.34,292.50 l38.00,-38.00 M339.64,292.50 l38.00,-38.00 M347.94,292.50 l38.00,-38.00 M356.24,292.50 l38.00,-38.00 M364.54,292.50 l38.00,-38.00 M372.84,292.50 l38.00,-38.00 M381.14,292.50 l38.00,-38.00" fill="none" stroke="#365241" stroke-width="0.7" clip-path="url(#cc10)"/>
<path d="M320.16,257.50 L336.20,257.50 l1.2,-1.9 l2.4,1.3 l0.5,0.8 L374.32,257.80 C379.42,257.80 383.60,261.68 383.60,266.78 L383.60,280.22 C383.60,285.32 379.42,289.20 374.32,289.20 L340.30,289.50 l-0.5,0.8 l-2.4,1.3 l-1.2,-1.9 L320.16,289.50 C312.59,289.50 306.40,283.31 306.40,275.74 L306.40,271.26 C306.40,263.69 312.59,257.50 320.16,257.50 Z" fill="none" stroke="#242424" stroke-width="1.12" stroke-linejoin="round"/>
<clipPath id="cc11"><path d="M403.58,111.90 L437.10,111.90 l1.2,-1.9 l2.4,1.3 l0.5,0.8 L457.64,112.20 C465.21,112.20 471.40,118.09 471.40,125.66 L471.40,130.14 C471.40,137.71 465.21,143.60 457.64,143.60 L441.20,143.90 l-0.5,0.8 l-2.4,1.3 l-1.2,-1.9 L403.58,143.90 C398.48,143.90 394.30,139.72 394.30,134.62 L394.30,121.18 C394.30,116.08 398.48,111.90 403.58,111.90 Z"/></clipPath>
<path d="M403.58,111.90 L437.10,111.90 l1.2,-1.9 l2.4,1.3 l0.5,0.8 L457.64,112.20 C465.21,112.20 471.40,118.09 471.40,125.66 L471.40,130.14 C471.40,137.71 465.21,143.60 457.64,143.60 L441.20,143.90 l-0.5,0.8 l-2.4,1.3 l-1.2,-1.9 L403.58,143.90 C398.48,143.90 394.30,139.72 394.30,134.62 L394.30,121.18 C394.30,116.08 398.48,111.90 403.58,111.90 Z" fill="#a8b6aa"/>
<path d="M362.95,146.90 l38.00,-38.00 M371.25,146.90 l38.00,-38.00 M379.55,146.90 l38.00,-38.00 M387.85,146.90 l38.00,-38.00 M396.15,146.90 l38.00,-38.00 M404.45,146.90 l38.00,-38.00 M412.75,146.90 l38.00,-38.00 M421.05,146.90 l38.00,-38.00 M429.35,146.90 l38.00,-38.00 M437.65,146.90 l38.00,-38.00 M445.95,146.90 l38.00,-38.00 M454.25,146.90 l38.00,-38.00 M462.55,146.90 l38.00,-38.00 M470.85,146.90 l38.00,-38.00" fill="none" stroke="#2c4235" stroke-width="0.72" clip-path="url(#cc11)"/>
<path d="M403.58,111.90 L437.10,111.90 l1.2,-1.9 l2.4,1.3 l0.5,0.8 L457.64,112.20 C465.21,112.20 471.40,118.09 471.40,125.66 L471.40,130.14 C471.40,137.71 465.21,143.60 457.64,143.60 L441.20,143.90 l-0.5,0.8 l-2.4,1.3 l-1.2,-1.9 L403.58,143.90 C398.48,143.90 394.30,139.72 394.30,134.62 L394.30,121.18 C394.30,116.08 398.48,111.90 403.58,111.90 Z" fill="none" stroke="#242424" stroke-width="1.12" stroke-linejoin="round"/>
<clipPath id="cc12"><path d="M400.19,161.30 L431.60,161.30 l1.2,-1.9 l2.4,1.3 l0.5,0.8 L461.74,161.60 C468.37,161.60 473.80,166.73 473.80,173.36 L473.80,182.74 C473.80,189.37 468.37,194.50 461.74,194.50 L435.70,194.80 l-0.5,0.8 l-2.4,1.3 l-1.2,-1.9 L400.19,194.80 C394.47,194.80 389.80,190.13 389.80,184.42 L389.80,171.69 C389.80,165.97 394.47,161.30 400.19,161.30 Z"/></clipPath>
<path d="M400.19,161.30 L431.60,161.30 l1.2,-1.9 l2.4,1.3 l0.5,0.8 L461.74,161.60 C468.37,161.60 473.80,166.73 473.80,173.36 L473.80,182.74 C473.80,189.37 468.37,194.50 461.74,194.50 L435.70,194.80 l-0.5,0.8 l-2.4,1.3 l-1.2,-1.9 L400.19,194.80 C394.47,194.80 389.80,190.13 389.80,184.42 L389.80,171.69 C389.80,165.97 394.47,161.30 400.19,161.30 Z" fill="#b3b4ac"/>
<path d="M352.22,197.80 l39.50,-39.50 M360.52,197.80 l39.50,-39.50 M368.82,197.80 l39.50,-39.50 M377.12,197.80 l39.50,-39.50 M385.42,197.80 l39.50,-39.50 M393.72,197.80 l39.50,-39.50 M402.02,197.80 l39.50,-39.50 M410.32,197.80 l39.50,-39.50 M418.62,197.80 l39.50,-39.50 M426.92,197.80 l39.50,-39.50 M435.22,197.80 l39.50,-39.50 M443.52,197.80 l39.50,-39.50 M451.82,197.80 l39.50,-39.50 M460.12,197.80 l39.50,-39.50 M468.42,197.80 l39.50,-39.50 M476.72,197.80 l39.50,-39.50" fill="none" stroke="#bfc36c" stroke-width="1.7" clip-path="url(#cc12)"/>
<path d="M400.19,161.30 L431.60,161.30 l1.2,-1.9 l2.4,1.3 l0.5,0.8 L461.74,161.60 C468.37,161.60 473.80,166.73 473.80,173.36 L473.80,182.74 C473.80,189.37 468.37,194.50 461.74,194.50 L435.70,194.80 l-0.5,0.8 l-2.4,1.3 l-1.2,-1.9 L400.19,194.80 C394.47,194.80 389.80,190.13 389.80,184.42 L389.80,171.69 C389.80,165.97 394.47,161.30 400.19,161.30 Z" fill="none" stroke="#242424" stroke-width="1.12" stroke-linejoin="round"/>
<clipPath id="cc13"><path d="M400.28,205.40 L431.60,205.40 l1.2,-1.9 l2.4,1.3 l0.5,0.8 L461.63,205.70 C468.32,205.70 473.80,210.88 473.80,217.57 L473.80,227.03 C473.80,233.72 468.32,238.90 461.63,238.90 L435.70,239.20 l-0.5,0.8 l-2.4,1.3 l-1.2,-1.9 L400.28,239.20 C394.52,239.20 389.80,234.48 389.80,228.72 L389.80,215.88 C389.80,210.12 394.52,205.40 400.28,205.40 Z"/></clipPath>
<path d="M400.28,205.40 L431.60,205.40 l1.2,-1.9 l2.4,1.3 l0.5,0.8 L461.63,205.70 C468.32,205.70 473.80,210.88 473.80,217.57 L473.80,227.03 C473.80,233.72 468.32,238.90 461.63,238.90 L435.70,239.20 l-0.5,0.8 l-2.4,1.3 l-1.2,-1.9 L400.28,239.20 C394.52,239.20 389.80,234.48 389.80,228.72 L389.80,215.88 C389.80,210.12 394.52,205.40 400.28,205.40 Z" fill="#b3b4ac"/>
<path d="M353.92,242.20 l39.80,-39.80 M362.22,242.20 l39.80,-39.80 M370.52,242.20 l39.80,-39.80 M378.82,242.20 l39.80,-39.80 M387.12,242.20 l39.80,-39.80 M395.42,242.20 l39.80,-39.80 M403.72,242.20 l39.80,-39.80 M412.02,242.20 l39.80,-39.80 M420.32,242.20 l39.80,-39.80 M428.62,242.20 l39.80,-39.80 M436.92,242.20 l39.80,-39.80 M445.22,242.20 l39.80,-39.80 M453.52,242.20 l39.80,-39.80 M461.82,242.20 l39.80,-39.80 M470.12,242.20 l39.80,-39.80" fill="none" stroke="#bfc36c" stroke-width="1.7" clip-path="url(#cc13)"/>
<path d="M400.28,205.40 L431.60,205.40 l1.2,-1.9 l2.4,1.3 l0.5,0.8 L461.63,205.70 C468.32,205.70 473.80,210.88 473.80,217.57 L473.80,227.03 C473.80,233.72 468.32,238.90 461.63,238.90 L435.70,239.20 l-0.5,0.8 l-2.4,1.3 l-1.2,-1.9 L400.28,239.20 C394.52,239.20 389.80,234.48 389.80,228.72 L389.80,215.88 C389.80,210.12 394.52,205.40 400.28,205.40 Z" fill="none" stroke="#242424" stroke-width="1.12" stroke-linejoin="round"/>
<clipPath id="cc14"><path d="M403.58,259.00 L437.10,259.00 l1.2,-1.9 l2.4,1.3 l0.5,0.8 L457.64,259.30 C465.21,259.30 471.40,265.19 471.40,272.76 L471.40,277.24 C471.40,284.81 465.21,290.70 457.64,290.70 L441.20,291.00 l-0.5,0.8 l-2.4,1.3 l-1.2,-1.9 L403.58,291.00 C398.48,291.00 394.30,286.82 394.30,281.72 L394.30,268.28 C394.30,263.18 398.48,259.00 403.58,259.00 Z"/></clipPath>
<path d="M403.58,259.00 L437.10,259.00 l1.2,-1.9 l2.4,1.3 l0.5,0.8 L457.64,259.30 C465.21,259.30 471.40,265.19 471.40,272.76 L471.40,277.24 C471.40,284.81 465.21,290.70 457.64,290.70 L441.20,291.00 l-0.5,0.8 l-2.4,1.3 l-1.2,-1.9 L403.58,291.00 C398.48,291.00 394.30,286.82 394.30,281.72 L394.30,268.28 C394.30,263.18 398.48,259.00 403.58,259.00 Z" fill="#a8b6aa"/>
<path d="M361.38,294.00 l38.00,-38.00 M369.68,294.00 l38.00,-38.00 M377.98,294.00 l38.00,-38.00 M386.28,294.00 l38.00,-38.00 M394.58,294.00 l38.00,-38.00 M402.88,294.00 l38.00,-38.00 M411.18,294.00 l38.00,-38.00 M419.48,294.00 l38.00,-38.00 M427.78,294.00 l38.00,-38.00 M436.08,294.00 l38.00,-38.00 M444.38,294.00 l38.00,-38.00 M452.68,294.00 l38.00,-38.00 M460.98,294.00 l38.00,-38.00 M469.28,294.00 l38.00,-38.00" fill="none" stroke="#2c4235" stroke-width="0.72" clip-path="url(#cc14)"/>
<path d="M403.58,259.00 L437.10,259.00 l1.2,-1.9 l2.4,1.3 l0.5,0.8 L457.64,259.30 C465.21,259.30 471.40,265.19 471.40,272.76 L471.40,277.24 C471.40,284.81 465.21,290.70 457.64,290.70 L441.20,291.00 l-0.5,0.8 l-2.4,1.3 l-1.2,-1.9 L403.58,291.00 C398.48,291.00 394.30,286.82 394.30,281.72 L394.30,268.28 C394.30,263.18 398.48,259.00 403.58,259.00 Z" fill="none" stroke="#242424" stroke-width="1.12" stroke-linejoin="round"/>
<clipPath id="cc15"><path d="M585.76,59.50 L600.80,59.50 l1.2,-1.9 l2.4,1.3 l0.5,0.8 L639.52,59.80 C644.62,59.80 648.80,63.68 648.80,68.78 L648.80,82.22 C648.80,87.32 644.62,91.20 639.52,91.20 L604.90,91.50 l-0.5,0.8 l-2.4,1.3 l-1.2,-1.9 L585.76,91.50 C578.19,91.50 572.00,85.31 572.00,77.74 L572.00,73.26 C572.00,65.69 578.19,59.50 585.76,59.50 Z"/></clipPath>
<path d="M585.76,59.50 L600.80,59.50 l1.2,-1.9 l2.4,1.3 l0.5,0.8 L639.52,59.80 C644.62,59.80 648.80,63.68 648.80,68.78 L648.80,82.22 C648.80,87.32 644.62,91.20 639.52,91.20 L604.90,91.50 l-0.5,0.8 l-2.4,1.3 l-1.2,-1.9 L585.76,91.50 C578.19,91.50 572.00,85.31 572.00,77.74 L572.00,73.26 C572.00,65.69 578.19,59.50 585.76,59.50 Z" fill="#a8b6aa"/>
<path d="M541.24,94.50 l38.00,-38.00 M549.53,94.50 l38.00,-38.00 M557.84,94.50 l38.00,-38.00 M566.13,94.50 l38.00,-38.00 M574.43,94.50 l38.00,-38.00 M582.74,94.50 l38.00,-38.00 M591.03,94.50 l38.00,-38.00 M599.34,94.50 l38.00,-38.00 M607.63,94.50 l38.00,-38.00 M615.93,94.50 l38.00,-38.00 M624.24,94.50 l38.00,-38.00 M632.53,94.50 l38.00,-38.00 M640.84,94.50 l38.00,-38.00 M649.13,94.50 l38.00,-38.00" fill="none" stroke="#2c4235" stroke-width="0.72" clip-path="url(#cc15)"/>
<path d="M585.76,59.50 L600.80,59.50 l1.2,-1.9 l2.4,1.3 l0.5,0.8 L639.52,59.80 C644.62,59.80 648.80,63.68 648.80,68.78 L648.80,82.22 C648.80,87.32 644.62,91.20 639.52,91.20 L604.90,91.50 l-0.5,0.8 l-2.4,1.3 l-1.2,-1.9 L585.76,91.50 C578.19,91.50 572.00,85.31 572.00,77.74 L572.00,73.26 C572.00,65.69 578.19,59.50 585.76,59.50 Z" fill="none" stroke="#242424" stroke-width="1.12" stroke-linejoin="round"/>
<clipPath id="cc16"><path d="M585.76,100.30 L600.80,100.30 l1.2,-1.9 l2.4,1.3 l0.5,0.8 L639.52,100.60 C644.62,100.60 648.80,104.48 648.80,109.58 L648.80,123.02 C648.80,128.12 644.62,132.00 639.52,132.00 L604.90,132.30 l-0.5,0.8 l-2.4,1.3 l-1.2,-1.9 L585.76,132.30 C578.19,132.30 572.00,126.11 572.00,118.54 L572.00,114.06 C572.00,106.49 578.19,100.30 585.76,100.30 Z"/></clipPath>
<path d="M585.76,100.30 L600.80,100.30 l1.2,-1.9 l2.4,1.3 l0.5,0.8 L639.52,100.60 C644.62,100.60 648.80,104.48 648.80,109.58 L648.80,123.02 C648.80,128.12 644.62,132.00 639.52,132.00 L604.90,132.30 l-0.5,0.8 l-2.4,1.3 l-1.2,-1.9 L585.76,132.30 C578.19,132.30 572.00,126.11 572.00,118.54 L572.00,114.06 C572.00,106.49 578.19,100.30 585.76,100.30 Z" fill="#a8b6aa"/>
<path d="M541.22,135.30 l38.00,-38.00 M549.52,135.30 l38.00,-38.00 M557.82,135.30 l38.00,-38.00 M566.12,135.30 l38.00,-38.00 M574.42,135.30 l38.00,-38.00 M582.72,135.30 l38.00,-38.00 M591.02,135.30 l38.00,-38.00 M599.32,135.30 l38.00,-38.00 M607.62,135.30 l38.00,-38.00 M615.92,135.30 l38.00,-38.00 M624.22,135.30 l38.00,-38.00 M632.52,135.30 l38.00,-38.00 M640.82,135.30 l38.00,-38.00 M649.12,135.30 l38.00,-38.00" fill="none" stroke="#2c4235" stroke-width="0.72" clip-path="url(#cc16)"/>
<path d="M585.76,100.30 L600.80,100.30 l1.2,-1.9 l2.4,1.3 l0.5,0.8 L639.52,100.60 C644.62,100.60 648.80,104.48 648.80,109.58 L648.80,123.02 C648.80,128.12 644.62,132.00 639.52,132.00 L604.90,132.30 l-0.5,0.8 l-2.4,1.3 l-1.2,-1.9 L585.76,132.30 C578.19,132.30 572.00,126.11 572.00,118.54 L572.00,114.06 C572.00,106.49 578.19,100.30 585.76,100.30 Z" fill="none" stroke="#242424" stroke-width="1.12" stroke-linejoin="round"/>
<clipPath id="cc17"><path d="M590.66,291.70 L604.70,291.70 l1.2,-1.9 l2.4,1.3 l0.5,0.8 L644.72,292.00 C649.82,292.00 654.00,295.88 654.00,300.98 L654.00,314.42 C654.00,319.52 649.82,323.40 644.72,323.40 L608.80,323.70 l-0.5,0.8 l-2.4,1.3 l-1.2,-1.9 L590.66,323.70 C583.09,323.70 576.90,317.51 576.90,309.94 L576.90,305.46 C576.90,297.89 583.09,291.70 590.66,291.70 Z"/></clipPath>
<path d="M590.66,291.70 L604.70,291.70 l1.2,-1.9 l2.4,1.3 l0.5,0.8 L644.72,292.00 C649.82,292.00 654.00,295.88 654.00,300.98 L654.00,314.42 C654.00,319.52 649.82,323.40 644.72,323.40 L608.80,323.70 l-0.5,0.8 l-2.4,1.3 l-1.2,-1.9 L590.66,323.70 C583.09,323.70 576.90,317.51 576.90,309.94 L576.90,305.46 C576.90,297.89 583.09,291.70 590.66,291.70 Z" fill="#a8b6aa"/>
<path d="M540.19,326.70 l38.00,-38.00 M548.49,326.70 l38.00,-38.00 M556.79,326.70 l38.00,-38.00 M565.09,326.70 l38.00,-38.00 M573.39,326.70 l38.00,-38.00 M581.69,326.70 l38.00,-38.00 M589.99,326.70 l38.00,-38.00 M598.29,326.70 l38.00,-38.00 M606.59,326.70 l38.00,-38.00 M614.89,326.70 l38.00,-38.00 M623.19,326.70 l38.00,-38.00 M631.49,326.70 l38.00,-38.00 M639.79,326.70 l38.00,-38.00 M648.09,326.70 l38.00,-38.00 M656.39,326.70 l38.00,-38.00" fill="none" stroke="#2c4235" stroke-width="0.72" clip-path="url(#cc17)"/>
<path d="M590.66,291.70 L604.70,291.70 l1.2,-1.9 l2.4,1.3 l0.5,0.8 L644.72,292.00 C649.82,292.00 654.00,295.88 654.00,300.98 L654.00,314.42 C654.00,319.52 649.82,323.40 644.72,323.40 L608.80,323.70 l-0.5,0.8 l-2.4,1.3 l-1.2,-1.9 L590.66,323.70 C583.09,323.70 576.90,317.51 576.90,309.94 L576.90,305.46 C576.90,297.89 583.09,291.70 590.66,291.70 Z" fill="none" stroke="#242424" stroke-width="1.12" stroke-linejoin="round"/>
</g>
<g id="details">
<rect x="385.00" y="108.00" width="13.20" height="2.80" fill="#e6e6e6" stroke="#444" stroke-width="0.6"/>
<rect x="385.00" y="199.60" width="13.20" height="2.80" fill="#e6e6e6" stroke="#444" stroke-width="0.6"/>
<rect x="385.00" y="295.60" width="13.20" height="2.80" fill="#e6e6e6" stroke="#444" stroke-width="0.6"/>
<rect x="389.80" y="108.00" width="3.40" height="189.50" fill="#0a0a0a" />
<line x1="206.70" y1="0.00" x2="206.70" y2="208.00" stroke="#3f3f3f" stroke-width="0.9" stroke-dasharray="7 2.5"/>
<path d="M207.2,207 A82.5,81.8 0 0 0 290,288.8 A82,82 0 0 0 311,285.8" fill="none" stroke="#3a3a3a" stroke-width="0.95" stroke-dasharray="7 2.5"/>
<rect x="110.00" y="148.70" width="7.6" height="3.8" fill="#e6e6e6" stroke="#2e2e2e" stroke-width="0.9"/>
<line x1="111.20" y1="151.70" x2="116.40" y2="149.50" stroke="#2e2e2e" stroke-width="0.9" />
<rect x="197.00" y="148.70" width="7.6" height="3.8" fill="#e6e6e6" stroke="#2e2e2e" stroke-width="0.9"/>
<line x1="198.20" y1="151.70" x2="203.40" y2="149.50" stroke="#2e2e2e" stroke-width="0.9" />
<rect x="197.00" y="253.50" width="7.6" height="3.8" fill="#e6e6e6" stroke="#2e2e2e" stroke-width="0.9"/>
<line x1="198.20" y1="256.50" x2="203.40" y2="254.30" stroke="#2e2e2e" stroke-width="0.9" />
<rect x="308.00" y="148.60" width="7.6" height="3.8" fill="#e6e6e6" stroke="#2e2e2e" stroke-width="0.9"/>
<line x1="309.20" y1="151.60" x2="314.40" y2="149.40" stroke="#2e2e2e" stroke-width="0.9" />
<rect x="399.50" y="153.40" width="7.6" height="3.8" fill="#e6e6e6" stroke="#2e2e2e" stroke-width="0.9"/>
<line x1="400.70" y1="156.40" x2="405.90" y2="154.20" stroke="#2e2e2e" stroke-width="0.9" />
<rect x="467.50" y="153.40" width="7.6" height="3.8" fill="#e6e6e6" stroke="#2e2e2e" stroke-width="0.9"/>
<line x1="468.70" y1="156.40" x2="473.90" y2="154.20" stroke="#2e2e2e" stroke-width="0.9" />
<rect x="399.50" y="248.40" width="7.6" height="3.8" fill="#e6e6e6" stroke="#2e2e2e" stroke-width="0.9"/>
<line x1="400.70" y1="251.40" x2="405.90" y2="249.20" stroke="#2e2e2e" stroke-width="0.9" />
<rect x="467.50" y="248.40" width="7.6" height="3.8" fill="#e6e6e6" stroke="#2e2e2e" stroke-width="0.9"/>
<line x1="468.70" y1="251.40" x2="473.90" y2="249.20" stroke="#2e2e2e" stroke-width="0.9" />
<rect x="49.80" y="49.60" width="2.50" height="96.00" fill="#f8f8f8" />
<line x1="54.40" y1="61.00" x2="89.40" y2="61.00" stroke="#141414" stroke-width="1.45" />
<rect x="57.00" y="54.00" width="7.20" height="1.10" fill="#ebebeb" />
<rect x="57.00" y="56.00" width="7.20" height="1.10" fill="#ebebeb" />
<line x1="54.40" y1="71.52" x2="89.40" y2="71.52" stroke="#141414" stroke-width="1.45" />
<rect x="57.00" y="64.52" width="7.20" height="1.10" fill="#ebebeb" />
<rect x="57.00" y="66.52" width="7.20" height="1.10" fill="#ebebeb" />
<line x1="54.40" y1="82.04" x2="89.40" y2="82.04" stroke="#141414" stroke-width="1.45" />
<rect x="57.00" y="75.04" width="7.20" height="1.10" fill="#ebebeb" />
<rect x="57.00" y="77.04" width="7.20" height="1.10" fill="#ebebeb" />
<line x1="54.40" y1="92.56" x2="89.40" y2="92.56" stroke="#141414" stroke-width="1.45" />
<rect x="57.00" y="85.56" width="7.20" height="1.10" fill="#ebebeb" />
<rect x="57.00" y="87.56" width="7.20" height="1.10" fill="#ebebeb" />
<line x1="54.40" y1="103.08" x2="89.40" y2="103.08" stroke="#141414" stroke-width="1.45" />
<rect x="57.00" y="96.08" width="7.20" height="1.10" fill="#ebebeb" />
<rect x="57.00" y="98.08" width="7.20" height="1.10" fill="#ebebeb" />
<line x1="54.40" y1="113.60" x2="89.40" y2="113.60" stroke="#141414" stroke-width="1.45" />
<rect x="57.00" y="106.60" width="7.20" height="1.10" fill="#ebebeb" />
<rect x="57.00" y="108.60" width="7.20" height="1.10" fill="#ebebeb" />
<line x1="54.40" y1="124.12" x2="89.40" y2="124.12" stroke="#141414" stroke-width="1.45" />
<rect x="57.00" y="117.12" width="7.20" height="1.10" fill="#ebebeb" />
<rect x="57.00" y="119.12" width="7.20" height="1.10" fill="#ebebeb" />
<line x1="54.40" y1="134.64" x2="89.40" y2="134.64" stroke="#141414" stroke-width="1.45" />
<rect x="57.00" y="127.64" width="7.20" height="1.10" fill="#ebebeb" />
<rect x="57.00" y="129.64" width="7.20" height="1.10" fill="#ebebeb" />
<line x1="54.40" y1="145.16" x2="89.40" y2="145.16" stroke="#141414" stroke-width="1.45" />
<rect x="57.00" y="138.16" width="7.20" height="1.10" fill="#ebebeb" />
<rect x="57.00" y="140.16" width="7.20" height="1.10" fill="#ebebeb" />
<rect x="93.3" y="53.35" width="16.6" height="2.3" rx="1.15" ry="1.15" fill="#d6d6d6" stroke="#303030" stroke-width="0.75"/>
<rect x="93.3" y="58.46" width="16.6" height="2.3" rx="1.15" ry="1.15" fill="#d6d6d6" stroke="#303030" stroke-width="0.75"/>
<rect x="93.3" y="63.56" width="16.6" height="2.3" rx="1.15" ry="1.15" fill="#a8a8a8" stroke="#303030" stroke-width="0.75"/>
<rect x="93.3" y="68.66" width="16.6" height="2.3" rx="1.15" ry="1.15" fill="#d6d6d6" stroke="#303030" stroke-width="0.75"/>
<rect x="93.3" y="73.77" width="16.6" height="2.3" rx="1.15" ry="1.15" fill="#d6d6d6" stroke="#303030" stroke-width="0.75"/>
<rect x="93.3" y="78.88" width="16.6" height="2.3" rx="1.15" ry="1.15" fill="#d6d6d6" stroke="#303030" stroke-width="0.75"/>
<rect x="93.3" y="83.98" width="16.6" height="2.3" rx="1.15" ry="1.15" fill="#d6d6d6" stroke="#303030" stroke-width="0.75"/>
<rect x="93.3" y="89.08" width="16.6" height="2.3" rx="1.15" ry="1.15" fill="#d6d6d6" stroke="#303030" stroke-width="0.75"/>
<rect x="93.3" y="94.19" width="16.6" height="2.3" rx="1.15" ry="1.15" fill="#d6d6d6" stroke="#303030" stroke-width="0.75"/>
<rect x="93.3" y="99.30" width="16.6" height="2.3" rx="1.15" ry="1.15" fill="#d6d6d6" stroke="#303030" stroke-width="0.75"/>
<rect x="93.3" y="104.40" width="16.6" height="2.3" rx="1.15" ry="1.15" fill="#d6d6d6" stroke="#303030" stroke-width="0.75"/>
<rect x="93.3" y="109.50" width="16.6" height="2.3" rx="1.15" ry="1.15" fill="#a8a8a8" stroke="#303030" stroke-width="0.75"/>
<rect x="93.3" y="114.61" width="16.6" height="2.3" rx="1.15" ry="1.15" fill="#d6d6d6" stroke="#303030" stroke-width="0.75"/>
<rect x="93.3" y="119.72" width="16.6" height="2.3" rx="1.15" ry="1.15" fill="#d6d6d6" stroke="#303030" stroke-width="0.75"/>
<rect x="93.3" y="124.82" width="16.6" height="2.3" rx="1.15" ry="1.15" fill="#d6d6d6" stroke="#303030" stroke-width="0.75"/>
<rect x="93.3" y="129.92" width="16.6" height="2.3" rx="1.15" ry="1.15" fill="#d6d6d6" stroke="#303030" stroke-width="0.75"/>
<rect x="93.3" y="135.03" width="16.6" height="2.3" rx="1.15" ry="1.15" fill="#d6d6d6" stroke="#303030" stroke-width="0.75"/>
<rect x="93.3" y="140.14" width="16.6" height="2.3" rx="1.15" ry="1.15" fill="#d6d6d6" stroke="#303030" stroke-width="0.75"/>
<rect x="93.3" y="145.24" width="16.6" height="2.3" rx="1.15" ry="1.15" fill="#d6d6d6" stroke="#303030" stroke-width="0.75"/>
<line x1="71.90" y1="311.00" x2="71.90" y2="355.00" stroke="#444" stroke-width="0.7" />
<line x1="73.20" y1="222.00" x2="73.20" y2="355.00" stroke="#777" stroke-width="0.6" />
<line x1="71.20" y1="224.20" x2="92.80" y2="224.20" stroke="#1c1c1c" stroke-width="1.3" />
<line x1="71.20" y1="235.13" x2="92.80" y2="235.13" stroke="#1c1c1c" stroke-width="1.3" />
<line x1="71.20" y1="246.06" x2="92.80" y2="246.06" stroke="#1c1c1c" stroke-width="1.3" />
<line x1="71.20" y1="256.99" x2="92.80" y2="256.99" stroke="#1c1c1c" stroke-width="1.3" />
<line x1="71.20" y1="267.92" x2="92.80" y2="267.92" stroke="#1c1c1c" stroke-width="1.3" />
<line x1="71.20" y1="278.85" x2="92.80" y2="278.85" stroke="#1c1c1c" stroke-width="1.3" />
<line x1="71.20" y1="289.78" x2="92.80" y2="289.78" stroke="#1c1c1c" stroke-width="1.3" />
<line x1="71.20" y1="300.71" x2="92.80" y2="300.71" stroke="#1c1c1c" stroke-width="1.3" />
<line x1="71.20" y1="311.64" x2="92.80" y2="311.64" stroke="#1c1c1c" stroke-width="1.3" />
<line x1="71.20" y1="322.57" x2="92.80" y2="322.57" stroke="#1c1c1c" stroke-width="1.3" />
<line x1="71.20" y1="333.50" x2="92.80" y2="333.50" stroke="#1c1c1c" stroke-width="1.3" />
<line x1="71.20" y1="344.43" x2="92.80" y2="344.43" stroke="#1c1c1c" stroke-width="1.3" />
<line x1="75.30" y1="222.00" x2="75.30" y2="355.00" stroke="#f0f0f0" stroke-width="1.1" />
<rect x="93.6" y="223.05" width="16" height="2.3" rx="1.15" ry="1.15" fill="#d6d6d6" stroke="#303030" stroke-width="0.75"/>
<rect x="93.6" y="228.18" width="16" height="2.3" rx="1.15" ry="1.15" fill="#d6d6d6" stroke="#303030" stroke-width="0.75"/>
<rect x="93.6" y="233.31" width="16" height="2.3" rx="1.15" ry="1.15" fill="#d6d6d6" stroke="#303030" stroke-width="0.75"/>
<rect x="93.6" y="238.43" width="16" height="2.3" rx="1.15" ry="1.15" fill="#d6d6d6" stroke="#303030" stroke-width="0.75"/>
<rect x="93.6" y="243.56" width="16" height="2.3" rx="1.15" ry="1.15" fill="#d6d6d6" stroke="#303030" stroke-width="0.75"/>
<rect x="93.6" y="248.69" width="16" height="2.3" rx="1.15" ry="1.15" fill="#d6d6d6" stroke="#303030" stroke-width="0.75"/>
<rect x="93.6" y="253.82" width="16" height="2.3" rx="1.15" ry="1.15" fill="#d6d6d6" stroke="#303030" stroke-width="0.75"/>
<rect x="93.6" y="258.95" width="16" height="2.3" rx="1.15" ry="1.15" fill="#d6d6d6" stroke="#303030" stroke-width="0.75"/>
<rect x="93.6" y="264.07" width="16" height="2.3" rx="1.15" ry="1.15" fill="#d6d6d6" stroke="#303030" stroke-width="0.75"/>
<rect x="93.6" y="269.20" width="16" height="2.3" rx="1.15" ry="1.15" fill="#d6d6d6" stroke="#303030" stroke-width="0.75"/>
<rect x="93.6" y="274.33" width="16" height="2.3" rx="1.15" ry="1.15" fill="#d6d6d6" stroke="#303030" stroke-width="0.75"/>
<rect x="93.6" y="279.46" width="16" height="2.3" rx="1.15" ry="1.15" fill="#d6d6d6" stroke="#303030" stroke-width="0.75"/>
<rect x="93.6" y="284.59" width="16" height="2.3" rx="1.15" ry="1.15" fill="#d6d6d6" stroke="#303030" stroke-width="0.75"/>
<rect x="93.6" y="289.71" width="16" height="2.3" rx="1.15" ry="1.15" fill="#a8a8a8" stroke="#303030" stroke-width="0.75"/>
<rect x="93.6" y="294.84" width="16" height="2.3" rx="1.15" ry="1.15" fill="#a8a8a8" stroke="#303030" stroke-width="0.75"/>
<rect x="93.6" y="299.97" width="16" height="2.3" rx="1.15" ry="1.15" fill="#d6d6d6" stroke="#303030" stroke-width="0.75"/>
<rect x="93.6" y="305.10" width="16" height="2.3" rx="1.15" ry="1.15" fill="#d6d6d6" stroke="#303030" stroke-width="0.75"/>
<rect x="93.6" y="310.23" width="16" height="2.3" rx="1.15" ry="1.15" fill="#d6d6d6" stroke="#303030" stroke-width="0.75"/>
<rect x="93.6" y="315.35" width="16" height="2.3" rx="1.15" ry="1.15" fill="#d6d6d6" stroke="#303030" stroke-width="0.75"/>
<rect x="93.6" y="320.48" width="16" height="2.3" rx="1.15" ry="1.15" fill="#d6d6d6" stroke="#303030" stroke-width="0.75"/>
<rect x="93.6" y="325.61" width="16" height="2.3" rx="1.15" ry="1.15" fill="#a8a8a8" stroke="#303030" stroke-width="0.75"/>
<rect x="93.6" y="330.74" width="16" height="2.3" rx="1.15" ry="1.15" fill="#d6d6d6" stroke="#303030" stroke-width="0.75"/>
<rect x="93.6" y="335.87" width="16" height="2.3" rx="1.15" ry="1.15" fill="#d6d6d6" stroke="#303030" stroke-width="0.75"/>
<rect x="93.6" y="340.99" width="16" height="2.3" rx="1.15" ry="1.15" fill="#d6d6d6" stroke="#303030" stroke-width="0.75"/>
<rect x="93.6" y="346.12" width="16" height="2.3" rx="1.15" ry="1.15" fill="#d6d6d6" stroke="#303030" stroke-width="0.75"/>
<rect x="93.6" y="351.25" width="16" height="2.3" rx="1.15" ry="1.15" fill="#d6d6d6" stroke="#303030" stroke-width="0.75"/>
<circle cx="674.6" cy="64" r="14" fill="#ffffff"/>
<circle cx="674.6" cy="64" r="5.3" fill="none" stroke="#707070" stroke-width="0.7"/>
<line x1="669.30" y1="64.00" x2="673.10" y2="64.00" stroke="#808080" stroke-width="0.6" />
<line x1="676.10" y1="64.00" x2="679.90" y2="64.00" stroke="#808080" stroke-width="0.6" />
<line x1="674.60" y1="58.70" x2="674.60" y2="62.50" stroke="#808080" stroke-width="0.6" />
<line x1="674.60" y1="65.50" x2="674.60" y2="69.30" stroke="#808080" stroke-width="0.6" />
<circle cx="684.6" cy="64" r="0.5" fill="#aaa"/>
<circle cx="674.6" cy="95" r="14" fill="#ffffff"/>
<circle cx="674.6" cy="95" r="5.3" fill="none" stroke="#707070" stroke-width="0.7"/>
<line x1="669.30" y1="95.00" x2="673.10" y2="95.00" stroke="#808080" stroke-width="0.6" />
<line x1="676.10" y1="95.00" x2="679.90" y2="95.00" stroke="#808080" stroke-width="0.6" />
<line x1="674.60" y1="89.70" x2="674.60" y2="93.50" stroke="#808080" stroke-width="0.6" />
<line x1="674.60" y1="96.50" x2="674.60" y2="100.30" stroke="#808080" stroke-width="0.6" />
<circle cx="684.6" cy="95" r="0.5" fill="#aaa"/>
<circle cx="674.8" cy="126.5" r="14" fill="#ffffff"/>
<circle cx="674.8" cy="126.5" r="5.3" fill="none" stroke="#707070" stroke-width="0.7"/>
<line x1="669.50" y1="126.50" x2="673.30" y2="126.50" stroke="#808080" stroke-width="0.6" />
<line x1="676.30" y1="126.50" x2="680.10" y2="126.50" stroke="#808080" stroke-width="0.6" />
<line x1="674.80" y1="121.20" x2="674.80" y2="125.00" stroke="#808080" stroke-width="0.6" />
<line x1="674.80" y1="128.00" x2="674.80" y2="131.80" stroke="#808080" stroke-width="0.6" />
<circle cx="684.8" cy="126.5" r="0.5" fill="#aaa"/>
<circle cx="662.5" cy="161.6" r="13.8" fill="#ffffff"/>
<circle cx="662.5" cy="161.6" r="5.3" fill="none" stroke="#707070" stroke-width="0.7"/>
<line x1="657.20" y1="161.60" x2="661.00" y2="161.60" stroke="#808080" stroke-width="0.6" />
<line x1="664.00" y1="161.60" x2="667.80" y2="161.60" stroke="#808080" stroke-width="0.6" />
<line x1="662.50" y1="156.30" x2="662.50" y2="160.10" stroke="#808080" stroke-width="0.6" />
<line x1="662.50" y1="163.10" x2="662.50" y2="166.90" stroke="#808080" stroke-width="0.6" />
<circle cx="672.5" cy="161.6" r="0.5" fill="#aaa"/>
<line x1="692.00" y1="157.00" x2="692.00" y2="165.00" stroke="#b4b4b4" stroke-width="1" />
<line x1="694.60" y1="157.00" x2="694.60" y2="165.00" stroke="#b4b4b4" stroke-width="1" />
<line x1="700.60" y1="157.00" x2="700.60" y2="165.00" stroke="#b4b4b4" stroke-width="1" />
<line x1="703.20" y1="157.00" x2="703.20" y2="165.00" stroke="#b4b4b4" stroke-width="1" />
<line x1="239.30" y1="230.30" x2="286.40" y2="230.30" stroke="#444" stroke-width="0.8" />
<circle cx="247.2" cy="230.5" r="4.8" fill="none" stroke="#777" stroke-width="0.7"/>
<path d="M247.2,230.5 H252 A4.8,4.8 0 0 1 247.2,235.3 Z" fill="#f6f6f6"/>
<line x1="247.20" y1="224.50" x2="247.20" y2="238.00" stroke="#555" stroke-width="0.7" />
<line x1="497.00" y1="202.40" x2="544.00" y2="202.40" stroke="#444" stroke-width="0.8" />
<circle cx="505.3" cy="202.4" r="5" fill="#a2a2a2" stroke="#555" stroke-width="0.7"/>
<path d="M505.3,202.4 V197.4 A5,5 0 0 0 500.3,202.4 Z" fill="#f5f5f5"/>
<path d="M505.3,202.4 V207.4 A5,5 0 0 0 510.3,202.4 Z" fill="#f5f5f5"/>
<line x1="505.30" y1="195.00" x2="505.30" y2="210.50" stroke="#444" stroke-width="0.7" />
<path d="M36.2,205.9 A14,14 0 0 0 64,205.9" fill="none" stroke="#333" stroke-width="0.8"/>
<line x1="30.00" y1="205.90" x2="66.00" y2="205.90" stroke="#333" stroke-width="0.8" />
<path d="M36.5,205.9 l8.2,-1.3 v2.6 z M63.4,205.9 l-8.2,-1.3 v2.6 z" fill="#161616"/>
<line x1="45.50" y1="202.50" x2="53.50" y2="209.50" stroke="#444" stroke-width="0.7" />
<line x1="53.50" y1="202.50" x2="45.50" y2="209.50" stroke="#444" stroke-width="0.7" />
<path d="M32.5,198 V203 H36 V199 M33,206.5 V212" fill="none" stroke="#222" stroke-width="0.9"/>
<path d="M36,214 l3,5 l3.5,-4.5 l3.5,4.5 V213" fill="none" stroke="#222" stroke-width="0.8"/>
<path d="M50.5,222 A16,16 0 0 0 64.5,239" fill="none" stroke="#444" stroke-width="0.7"/>
<path d="M70.3,201.4 A15,14.5 0 0 1 84.8,214.6" fill="none" stroke="#333" stroke-width="0.95" stroke-dasharray="3.2 1.8"/>
<line x1="70.30" y1="217.10" x2="85.30" y2="217.10" stroke="#3a3a3a" stroke-width="1.0" />
<line x1="84.80" y1="213.90" x2="84.80" y2="217.40" stroke="#3a3a3a" stroke-width="0.9" />
<rect x="63.80" y="220.70" width="2.20" height="19.00" fill="#8f8f8f" />
<path d="M593,207 A14,14 0 0 0 621,207" fill="none" stroke="#333" stroke-width="0.7"/>
<line x1="585.50" y1="207.00" x2="627.50" y2="207.00" stroke="#222" stroke-width="0.8" />
<path d="M593.3,207 l8,-1.3 v2.6 z M620.7,207 l-8,-1.3 v2.6 z" fill="#111"/>
<line x1="602.50" y1="203.00" x2="611.00" y2="211.00" stroke="#222" stroke-width="0.7" />
<line x1="611.00" y1="203.00" x2="602.50" y2="211.00" stroke="#222" stroke-width="0.7" />
<path d="M570,193 A16,16 0 0 1 585.5,208.5" fill="none" stroke="#2e2e2e" stroke-width="0.9" stroke-dasharray="3.2 1.8"/>
<line x1="570.00" y1="208.80" x2="587.00" y2="208.80" stroke="#333" stroke-width="0.8" />
<line x1="584.80" y1="204.00" x2="584.80" y2="209.00" stroke="#333" stroke-width="0.8" />
<rect x="643.60" y="196.70" width="4.60" height="14.20" fill="#c4c4c4" stroke="#444" stroke-width="0.6"/>
<path d="M648.5,196.5 A14.5,15.5 0 0 1 662,212" fill="none" stroke="#333" stroke-width="0.85" stroke-dasharray="3.2 1.8"/>
<line x1="647.50" y1="212.30" x2="662.50" y2="212.30" stroke="#333" stroke-width="0.8" />
<line x1="661.80" y1="207.00" x2="661.80" y2="212.50" stroke="#333" stroke-width="0.8" />
<rect x="653.70" y="254.00" width="42.30" height="18.00" fill="#bcbcbc" stroke="#444" stroke-width="0.8"/>
</g>
<g id="labels">
<text x="124.00" y="71.30" font-size="11.5" fill="#1c1c1c" font-style="normal" font-weight="normal" stroke="#1c1c1c" stroke-width="0.28" textLength="71.50" lengthAdjust="spacingAndGlyphs">AUTO CHICO</text>
<text x="117.00" y="122.20" font-size="11.5" fill="#1c1c1c" font-style="normal" font-weight="normal" stroke="#1c1c1c" stroke-width="0.28" textLength="89.50" lengthAdjust="spacingAndGlyphs">AUTO MEDIANO</text>
<text x="116.00" y="175.20" font-size="11.5" fill="#1c1c1c" font-style="normal" font-weight="normal" stroke="#1c1c1c" stroke-width="0.28" textLength="89.00" lengthAdjust="spacingAndGlyphs">AUTO MEDIANO</text>
<text x="116.00" y="229.40" font-size="11.5" fill="#1c1c1c" font-style="normal" font-weight="normal" stroke="#1c1c1c" stroke-width="0.28" textLength="88.50" lengthAdjust="spacingAndGlyphs">AUTO MEDIANO</text>
<text x="116.00" y="287.70" font-size="11.5" fill="#1c1c1c" font-style="normal" font-weight="normal" stroke="#1c1c1c" stroke-width="0.28" textLength="88.50" lengthAdjust="spacingAndGlyphs">AUTO MEDIANO</text>
<text x="124.30" y="334.20" font-size="11.5" fill="#1c1c1c" font-style="normal" font-weight="normal" stroke="#1c1c1c" stroke-width="0.28" textLength="71.70" lengthAdjust="spacingAndGlyphs">AUTO CHICO</text>
<text x="308.60" y="134.00" font-size="11.5" fill="#1c1c1c" font-style="normal" font-weight="normal" stroke="#1c1c1c" stroke-width="0.28" textLength="72.00" lengthAdjust="spacingAndGlyphs">AUTO CHICO</text>
<text x="300.70" y="178.00" font-size="11.5" fill="#1c1c1c" font-style="normal" font-weight="normal" stroke="#1c1c1c" stroke-width="0.28" textLength="88.00" lengthAdjust="spacingAndGlyphs">AUTO MEDIANO</text>
<text x="301.00" y="227.20" font-size="11.5" fill="#1c1c1c" font-style="normal" font-weight="normal" stroke="#1c1c1c" stroke-width="0.28" textLength="88.00" lengthAdjust="spacingAndGlyphs">AUTO MEDIANO</text>
<text x="307.90" y="274.40" font-size="11.5" fill="#1c1c1c" font-style="normal" font-weight="normal" stroke="#1c1c1c" stroke-width="0.28" textLength="72.00" lengthAdjust="spacingAndGlyphs">AUTO CHICO</text>
<text x="396.40" y="131.80" font-size="11.5" fill="#1c1c1c" font-style="normal" font-weight="normal" stroke="#1c1c1c" stroke-width="0.28" textLength="72.20" lengthAdjust="spacingAndGlyphs">AUTO CHICO</text>
<text x="395.00" y="178.00" font-size="11.5" fill="#1c1c1c" font-style="normal" font-weight="normal" stroke="#1c1c1c" stroke-width="0.28" textLength="87.30" lengthAdjust="spacingAndGlyphs">AUTO MEDIANO</text>
<text x="395.00" y="228.40" font-size="11.5" fill="#1c1c1c" font-style="normal" font-weight="normal" stroke="#1c1c1c" stroke-width="0.28" textLength="87.50" lengthAdjust="spacingAndGlyphs">AUTO MEDIANO</text>
<text x="395.70" y="274.70" font-size="11.5" fill="#1c1c1c" font-style="normal" font-weight="normal" stroke="#1c1c1c" stroke-width="0.28" textLength="71.50" lengthAdjust="spacingAndGlyphs">AUTO CHICO</text>
<text x="576.00" y="77.50" font-size="11.5" fill="#1c1c1c" font-style="normal" font-weight="normal" stroke="#1c1c1c" stroke-width="0.28" textLength="72.20" lengthAdjust="spacingAndGlyphs">AUTO CHICO</text>
<text x="576.00" y="118.10" font-size="11.5" fill="#1c1c1c" font-style="normal" font-weight="normal" stroke="#1c1c1c" stroke-width="0.28" textLength="72.20" lengthAdjust="spacingAndGlyphs">AUTO CHICO</text>
<text x="598.40" y="303.40" font-size="11.5" fill="#1c1c1c" font-style="normal" font-weight="normal" stroke="#1c1c1c" stroke-width="0.28" textLength="31.60" lengthAdjust="spacingAndGlyphs">AUTO</text>
<text x="594.00" y="316.40" font-size="11.5" fill="#1c1c1c" font-style="normal" font-weight="normal" stroke="#1c1c1c" stroke-width="0.28" textLength="37.00" lengthAdjust="spacingAndGlyphs">CHICO</text>
<g transform="translate(190.00,52.00) scale(1.0588,0.9900)" fill="none" stroke="#0b0b0b" stroke-width="2.45" stroke-linejoin="miter" stroke-miterlimit="6"><path transform="translate(0.00,0)" d="M0.9,1.05 H6.2 L3.5,4.45 C5.6,4.45 6.7,5.4 6.7,6.75 C6.7,8.15 5.5,8.95 3.8,8.95 C2.5,8.95 1.4,8.5 0.7,7.7"/><path transform="translate(7.60,0)" d="M6.5,1.05 H2.3 L1.8,4.55 H3.6 C5.8,4.55 6.9,5.4 6.9,6.75 C6.9,8.15 5.7,8.95 3.9,8.95 C2.6,8.95 1.5,8.5 0.8,7.7"/></g>
<g transform="translate(190.00,100.70) scale(1.0314,0.9900)" fill="none" stroke="#0b0b0b" stroke-width="2.45" stroke-linejoin="miter" stroke-miterlimit="6"><path transform="translate(0.00,0)" d="M0.9,1.05 H6.2 L3.5,4.45 C5.6,4.45 6.7,5.4 6.7,6.75 C6.7,8.15 5.5,8.95 3.8,8.95 C2.5,8.95 1.4,8.5 0.7,7.7"/><path transform="translate(7.60,0)" d="M5.0,0.6 L1.2,6.85 H7.9 M5.8,4.6 V10"/></g>
<g transform="translate(191.00,155.90) scale(1.0395,0.9900)" fill="none" stroke="#0b0b0b" stroke-width="2.45" stroke-linejoin="miter" stroke-miterlimit="6"><path transform="translate(0.00,0)" d="M0.9,1.05 H6.2 L3.5,4.45 C5.6,4.45 6.7,5.4 6.7,6.75 C6.7,8.15 5.5,8.95 3.8,8.95 C2.5,8.95 1.4,8.5 0.7,7.7"/><path transform="translate(7.60,0)" d="M0.9,1.05 H6.2 L3.5,4.45 C5.6,4.45 6.7,5.4 6.7,6.75 C6.7,8.15 5.5,8.95 3.8,8.95 C2.5,8.95 1.4,8.5 0.7,7.7"/></g>
<g transform="translate(190.70,207.80) scale(1.0519,0.9900)" fill="none" stroke="#0b0b0b" stroke-width="2.45" stroke-linejoin="miter" stroke-miterlimit="6"><path transform="translate(0.00,0)" d="M0.9,1.05 H6.2 L3.5,4.45 C5.6,4.45 6.7,5.4 6.7,6.75 C6.7,8.15 5.5,8.95 3.8,8.95 C2.5,8.95 1.4,8.5 0.7,7.7"/><path transform="translate(7.60,0)" d="M1.1,3.0 C1.8,1.6 2.9,1.05 4.1,1.05 C5.7,1.05 6.6,2.0 6.6,3.25 C6.6,4.3 6.1,5.0 5.1,5.95 L1.9,8.95 H7.3"/></g>
<g transform="translate(191.00,265.20) scale(1.0407,0.9900)" fill="none" stroke="#0b0b0b" stroke-width="2.45" stroke-linejoin="miter" stroke-miterlimit="6"><path transform="translate(0.00,0)" d="M0.9,1.05 H6.2 L3.5,4.45 C5.6,4.45 6.7,5.4 6.7,6.75 C6.7,8.15 5.5,8.95 3.8,8.95 C2.5,8.95 1.4,8.5 0.7,7.7"/><path transform="translate(7.60,0)" d="M0.5,1.05 H3.3 V10"/></g>
<g transform="translate(189.00,314.30) scale(1.1410,0.9900)" fill="none" stroke="#0b0b0b" stroke-width="2.45" stroke-linejoin="miter" stroke-miterlimit="6"><path transform="translate(0.00,0)" d="M0.9,1.05 H6.2 L3.5,4.45 C5.6,4.45 6.7,5.4 6.7,6.75 C6.7,8.15 5.5,8.95 3.8,8.95 C2.5,8.95 1.4,8.5 0.7,7.7"/><path transform="translate(7.60,0)" d="M1.1,5 A2.9,3.95 0 1 1 6.9,5 A2.9,3.95 0 1 1 1.1,5 Z"/></g>
<g transform="translate(300.70,110.90) scale(1.0833,0.9900)" fill="none" stroke="#0b0b0b" stroke-width="2.45" stroke-linejoin="miter" stroke-miterlimit="6"><path transform="translate(0.00,0)" d="M1.1,3.0 C1.8,1.6 2.9,1.05 4.1,1.05 C5.7,1.05 6.6,2.0 6.6,3.25 C6.6,4.3 6.1,5.0 5.1,5.95 L1.9,8.95 H7.3"/><path transform="translate(7.80,0)" d="M6.4,1.6 C5.7,1.2 5.0,1.05 4.2,1.05 C2.2,1.05 1.1,2.6 1.1,5.2 C1.1,7.6 2.2,8.95 4.1,8.95 C5.7,8.95 6.8,8.0 6.8,6.5 C6.8,5.1 5.8,4.2 4.3,4.2 C2.8,4.2 1.6,5.0 1.2,6.2"/></g>
<g transform="translate(300.70,156.20) scale(1.0855,0.9900)" fill="none" stroke="#0b0b0b" stroke-width="2.45" stroke-linejoin="miter" stroke-miterlimit="6"><path transform="translate(0.00,0)" d="M1.1,3.0 C1.8,1.6 2.9,1.05 4.1,1.05 C5.7,1.05 6.6,2.0 6.6,3.25 C6.6,4.3 6.1,5.0 5.1,5.95 L1.9,8.95 H7.3"/><path transform="translate(7.80,0)" d="M1.05,3.1 V1.05 H6.5 L3.1,10"/></g>
<g transform="translate(300.30,205.20) scale(1.0759,0.9900)" fill="none" stroke="#0b0b0b" stroke-width="2.45" stroke-linejoin="miter" stroke-miterlimit="6"><path transform="translate(0.00,0)" d="M1.1,3.0 C1.8,1.6 2.9,1.05 4.1,1.05 C5.7,1.05 6.6,2.0 6.6,3.25 C6.6,4.3 6.1,5.0 5.1,5.95 L1.9,8.95 H7.3"/><path transform="translate(7.80,0)" d="M1.75,3.1 A2.25,2.05 0 1 1 6.25,3.1 A2.25,2.05 0 1 1 1.75,3.1 Z M1.15,6.85 A2.85,2.1 0 1 1 6.85,6.85 A2.85,2.1 0 1 1 1.15,6.85 Z"/></g>
<g transform="translate(300.30,257.20) scale(1.0897,0.9900)" fill="none" stroke="#0b0b0b" stroke-width="2.45" stroke-linejoin="miter" stroke-miterlimit="6"><path transform="translate(0.00,0)" d="M1.1,3.0 C1.8,1.6 2.9,1.05 4.1,1.05 C5.7,1.05 6.6,2.0 6.6,3.25 C6.6,4.3 6.1,5.0 5.1,5.95 L1.9,8.95 H7.3"/><path transform="translate(7.80,0)" d="M1.4,8.4 C2.1,8.8 2.8,8.95 3.6,8.95 C5.6,8.95 6.7,7.4 6.7,4.8 C6.7,2.4 5.6,1.05 3.7,1.05 C2.1,1.05 1.0,2.0 1.0,3.5 C1.0,4.9 2.0,5.8 3.5,5.8 C5.0,5.8 6.2,5.0 6.6,3.8"/></g>
<g transform="translate(458.00,111.60) scale(1.0516,0.9900)" fill="none" stroke="#0b0b0b" stroke-width="2.45" stroke-linejoin="miter" stroke-miterlimit="6"><path transform="translate(0.00,0)" d="M1.1,3.0 C1.8,1.6 2.9,1.05 4.1,1.05 C5.7,1.05 6.6,2.0 6.6,3.25 C6.6,4.3 6.1,5.0 5.1,5.95 L1.9,8.95 H7.3"/><path transform="translate(7.80,0)" d="M6.5,1.05 H2.3 L1.8,4.55 H3.6 C5.8,4.55 6.9,5.4 6.9,6.75 C6.9,8.15 5.7,8.95 3.9,8.95 C2.6,8.95 1.5,8.5 0.8,7.7"/></g>
<g transform="translate(457.60,157.00) scale(1.0435,0.9900)" fill="none" stroke="#0b0b0b" stroke-width="2.45" stroke-linejoin="miter" stroke-miterlimit="6"><path transform="translate(0.00,0)" d="M1.1,3.0 C1.8,1.6 2.9,1.05 4.1,1.05 C5.7,1.05 6.6,2.0 6.6,3.25 C6.6,4.3 6.1,5.0 5.1,5.95 L1.9,8.95 H7.3"/><path transform="translate(7.80,0)" d="M5.0,0.6 L1.2,6.85 H7.9 M5.8,4.6 V10"/></g>
<g transform="translate(457.20,205.60) scale(1.0390,0.9900)" fill="none" stroke="#0b0b0b" stroke-width="2.45" stroke-linejoin="miter" stroke-miterlimit="6"><path transform="translate(0.00,0)" d="M1.1,3.0 C1.8,1.6 2.9,1.05 4.1,1.05 C5.7,1.05 6.6,2.0 6.6,3.25 C6.6,4.3 6.1,5.0 5.1,5.95 L1.9,8.95 H7.3"/><path transform="translate(7.80,0)" d="M0.9,1.05 H6.2 L3.5,4.45 C5.6,4.45 6.7,5.4 6.7,6.75 C6.7,8.15 5.5,8.95 3.8,8.95 C2.5,8.95 1.4,8.5 0.7,7.7"/></g>
<g transform="translate(458.00,256.00) scale(1.0449,0.9900)" fill="none" stroke="#0b0b0b" stroke-width="2.45" stroke-linejoin="miter" stroke-miterlimit="6"><path transform="translate(0.00,0)" d="M1.1,3.0 C1.8,1.6 2.9,1.05 4.1,1.05 C5.7,1.05 6.6,2.0 6.6,3.25 C6.6,4.3 6.1,5.0 5.1,5.95 L1.9,8.95 H7.3"/><path transform="translate(7.80,0)" d="M1.1,3.0 C1.8,1.6 2.9,1.05 4.1,1.05 C5.7,1.05 6.6,2.0 6.6,3.25 C6.6,4.3 6.1,5.0 5.1,5.95 L1.9,8.95 H7.3"/></g>
<g transform="translate(568.00,50.70) scale(1.0320,0.9900)" fill="none" stroke="#0b0b0b" stroke-width="2.45" stroke-linejoin="miter" stroke-miterlimit="6"><path transform="translate(0.00,0)" d="M0.5,1.05 H3.3 V10"/><path transform="translate(4.70,0)" d="M1.4,8.4 C2.1,8.8 2.8,8.95 3.6,8.95 C5.6,8.95 6.7,7.4 6.7,4.8 C6.7,2.4 5.6,1.05 3.7,1.05 C2.1,1.05 1.0,2.0 1.0,3.5 C1.0,4.9 2.0,5.8 3.5,5.8 C5.0,5.8 6.2,5.0 6.6,3.8"/></g>
<g transform="translate(567.30,95.90) scale(1.1013,0.9900)" fill="none" stroke="#0b0b0b" stroke-width="2.45" stroke-linejoin="miter" stroke-miterlimit="6"><path transform="translate(0.00,0)" d="M1.1,3.0 C1.8,1.6 2.9,1.05 4.1,1.05 C5.7,1.05 6.6,2.0 6.6,3.25 C6.6,4.3 6.1,5.0 5.1,5.95 L1.9,8.95 H7.3"/><path transform="translate(7.80,0)" d="M1.1,5 A2.9,3.95 0 1 1 6.9,5 A2.9,3.95 0 1 1 1.1,5 Z"/></g>
<g transform="translate(571.00,285.00) scale(1.0800,0.9900)" fill="none" stroke="#0b0b0b" stroke-width="2.45" stroke-linejoin="miter" stroke-miterlimit="6"><path transform="translate(0.00,0)" d="M1.1,3.0 C1.8,1.6 2.9,1.05 4.1,1.05 C5.7,1.05 6.6,2.0 6.6,3.25 C6.6,4.3 6.1,5.0 5.1,5.95 L1.9,8.95 H7.3"/><path transform="translate(7.80,0)" d="M0.5,1.05 H3.3 V10"/></g>
<rect x="232.50" y="183.50" width="33.50" height="7.20" fill="#f3f3f3" />
<rect x="227.80" y="191.30" width="43.00" height="8.00" fill="#f3f3f3" />
<text x="233.20" y="189.80" font-size="7.5" fill="#4f4f4f" font-style="normal" font-weight="normal" stroke="#4f4f4f" stroke-width="0.1" textLength="32.00" lengthAdjust="spacingAndGlyphs">GARAGE</text>
<text x="228.60" y="198.20" font-size="7.5" fill="#4f4f4f" font-style="normal" font-weight="normal" stroke="#4f4f4f" stroke-width="0.1" textLength="41.40" lengthAdjust="spacingAndGlyphs">NIVEL -1.38</text>
<rect x="247.00" y="218.00" width="26.00" height="9.20" fill="#f3f3f3" />
<text x="248.00" y="226.50" font-size="10.2" fill="#2a2a2a" font-style="normal" font-weight="normal" stroke="#2a2a2a" stroke-width="0.15" textLength="24.00" lengthAdjust="spacingAndGlyphs">-1.38</text>
<rect x="510.70" y="190.00" width="25.50" height="8.00" fill="#f4f4f4" />
<text x="512.00" y="197.20" font-size="10.2" fill="#222" font-style="normal" font-weight="normal" stroke="#222" stroke-width="0.15" textLength="23.50" lengthAdjust="spacingAndGlyphs">-2.78</text>
<rect x="499.80" y="175.00" width="33.20" height="8.20" fill="#f4f4f4" />
<rect x="495.60" y="183.40" width="41.60" height="8.40" fill="#f4f4f4" />
<text x="500.80" y="181.60" font-size="7.5" fill="#3c3c3c" font-style="normal" font-weight="normal" stroke="#3c3c3c" stroke-width="0.1" textLength="31.50" lengthAdjust="spacingAndGlyphs">GARAGE</text>
<text x="496.60" y="190.20" font-size="7.5" fill="#3c3c3c" font-style="normal" font-weight="normal" stroke="#3c3c3c" stroke-width="0.1" textLength="39.80" lengthAdjust="spacingAndGlyphs">NIVEL -2.78</text>
<text x="79.60" y="60.60" font-size="7.2" fill="#0c0c0c" font-style="normal" font-weight="bold" stroke="#0c0c0c" stroke-width="0.42" textLength="7.60" lengthAdjust="spacingAndGlyphs">B1</text>
<text x="79.60" y="71.12" font-size="7.2" fill="#0c0c0c" font-style="normal" font-weight="bold" stroke="#0c0c0c" stroke-width="0.42" textLength="7.60" lengthAdjust="spacingAndGlyphs">B2</text>
<text x="79.60" y="81.64" font-size="7.2" fill="#0c0c0c" font-style="normal" font-weight="bold" stroke="#0c0c0c" stroke-width="0.42" textLength="7.60" lengthAdjust="spacingAndGlyphs">B3</text>
<text x="79.60" y="92.16" font-size="7.2" fill="#0c0c0c" font-style="normal" font-weight="bold" stroke="#0c0c0c" stroke-width="0.42" textLength="7.60" lengthAdjust="spacingAndGlyphs">B4</text>
<text x="79.60" y="102.68" font-size="7.2" fill="#0c0c0c" font-style="normal" font-weight="bold" stroke="#0c0c0c" stroke-width="0.42" textLength="7.60" lengthAdjust="spacingAndGlyphs">B5</text>
<text x="79.60" y="113.20" font-size="7.2" fill="#0c0c0c" font-style="normal" font-weight="bold" stroke="#0c0c0c" stroke-width="0.42" textLength="7.60" lengthAdjust="spacingAndGlyphs">B6</text>
<text x="79.60" y="123.72" font-size="7.2" fill="#0c0c0c" font-style="normal" font-weight="bold" stroke="#0c0c0c" stroke-width="0.42" textLength="7.60" lengthAdjust="spacingAndGlyphs">B7</text>
<text x="79.60" y="134.24" font-size="7.2" fill="#0c0c0c" font-style="normal" font-weight="bold" stroke="#0c0c0c" stroke-width="0.42" textLength="7.60" lengthAdjust="spacingAndGlyphs">B8</text>
<text x="79.60" y="144.76" font-size="7.2" fill="#0c0c0c" font-style="normal" font-weight="bold" stroke="#0c0c0c" stroke-width="0.42" textLength="7.60" lengthAdjust="spacingAndGlyphs">B9</text>
<text x="79.60" y="230.30" font-size="6.9" fill="#0c0c0c" font-style="normal" font-weight="bold" stroke="#0c0c0c" stroke-width="0.42" textLength="10.90" lengthAdjust="spacingAndGlyphs">B10</text>
<text x="79.60" y="241.23" font-size="6.9" fill="#0c0c0c" font-style="normal" font-weight="bold" stroke="#0c0c0c" stroke-width="0.42" textLength="10.90" lengthAdjust="spacingAndGlyphs">B11</text>
<text x="79.60" y="252.16" font-size="6.9" fill="#0c0c0c" font-style="normal" font-weight="bold" stroke="#0c0c0c" stroke-width="0.42" textLength="10.90" lengthAdjust="spacingAndGlyphs">B12</text>
<text x="79.60" y="263.09" font-size="6.9" fill="#0c0c0c" font-style="normal" font-weight="bold" stroke="#0c0c0c" stroke-width="0.42" textLength="10.90" lengthAdjust="spacingAndGlyphs">B13</text>
<text x="79.60" y="274.02" font-size="6.9" fill="#0c0c0c" font-style="normal" font-weight="bold" stroke="#0c0c0c" stroke-width="0.42" textLength="10.90" lengthAdjust="spacingAndGlyphs">B14</text>
<text x="79.60" y="284.95" font-size="6.9" fill="#0c0c0c" font-style="normal" font-weight="bold" stroke="#0c0c0c" stroke-width="0.42" textLength="10.90" lengthAdjust="spacingAndGlyphs">B15</text>
<text x="79.60" y="295.88" font-size="6.9" fill="#0c0c0c" font-style="normal" font-weight="bold" stroke="#0c0c0c" stroke-width="0.42" textLength="10.90" lengthAdjust="spacingAndGlyphs">B16</text>
<text x="79.60" y="306.81" font-size="6.9" fill="#0c0c0c" font-style="normal" font-weight="bold" stroke="#0c0c0c" stroke-width="0.42" textLength="10.90" lengthAdjust="spacingAndGlyphs">B17</text>
<text x="79.60" y="317.74" font-size="6.9" fill="#0c0c0c" font-style="normal" font-weight="bold" stroke="#0c0c0c" stroke-width="0.42" textLength="10.90" lengthAdjust="spacingAndGlyphs">B18</text>
<text x="79.60" y="328.67" font-size="6.9" fill="#0c0c0c" font-style="normal" font-weight="bold" stroke="#0c0c0c" stroke-width="0.42" textLength="10.90" lengthAdjust="spacingAndGlyphs">B19</text>
<text x="79.60" y="339.60" font-size="6.9" fill="#0c0c0c" font-style="normal" font-weight="bold" stroke="#0c0c0c" stroke-width="0.42" textLength="10.90" lengthAdjust="spacingAndGlyphs">B20</text>
<text x="79.60" y="350.53" font-size="6.9" fill="#0c0c0c" font-style="normal" font-weight="bold" stroke="#0c0c0c" stroke-width="0.42" textLength="10.90" lengthAdjust="spacingAndGlyphs">B21</text>
<text x="569.30" y="335.20" font-size="6.6" fill="#111" font-style="normal" font-weight="bold" stroke="#111" stroke-width="0.3" textLength="10.60" lengthAdjust="spacingAndGlyphs">B21</text>
<rect x="73.50" y="75.00" width="50.50" height="6.60" fill="#efefef" />
<rect x="80.00" y="82.60" width="39.60" height="7.00" fill="#efefef" />
<rect x="76.60" y="90.40" width="45.80" height="7.20" fill="#efefef" />
<rect x="77.40" y="98.00" width="44.20" height="6.80" fill="#efefef" />
<text x="74.00" y="81.00" font-size="6.9" fill="#2e2e2e" font-style="normal" font-weight="normal" stroke="#2e2e2e" stroke-width="0.27" textLength="49.60" lengthAdjust="spacingAndGlyphs">ESPACIO PARA</text>
<text x="80.70" y="88.80" font-size="6.9" fill="#2e2e2e" font-style="normal" font-weight="normal" stroke="#2e2e2e" stroke-width="0.27" textLength="38.30" lengthAdjust="spacingAndGlyphs">BICICLETAS</text>
<text x="77.30" y="96.10" font-size="6.9" fill="#2e2e2e" font-style="normal" font-weight="normal" stroke="#2e2e2e" stroke-width="0.27" textLength="44.50" lengthAdjust="spacingAndGlyphs">COLOCACIÓN</text>
<text x="78.00" y="103.60" font-size="6.9" fill="#2e2e2e" font-style="normal" font-weight="normal" stroke="#2e2e2e" stroke-width="0.27" textLength="42.40" lengthAdjust="spacingAndGlyphs">HORIZONTAL</text>
<rect x="84.40" y="237.60" width="52.00" height="7.00" fill="#efefef" />
<rect x="89.60" y="245.40" width="40.60" height="7.00" fill="#efefef" />
<rect x="87.00" y="253.00" width="47.20" height="7.40" fill="#efefef" />
<rect x="92.40" y="260.60" width="35.80" height="7.00" fill="#efefef" />
<text x="85.00" y="243.90" font-size="6.9" fill="#2e2e2e" font-style="normal" font-weight="normal" stroke="#2e2e2e" stroke-width="0.27" textLength="51.00" lengthAdjust="spacingAndGlyphs">ESPACIO PARA</text>
<text x="90.40" y="251.60" font-size="6.9" fill="#2e2e2e" font-style="normal" font-weight="normal" stroke="#2e2e2e" stroke-width="0.27" textLength="39.20" lengthAdjust="spacingAndGlyphs">BICICLETAS</text>
<text x="87.70" y="259.50" font-size="6.9" fill="#2e2e2e" font-style="normal" font-weight="normal" stroke="#2e2e2e" stroke-width="0.27" textLength="45.90" lengthAdjust="spacingAndGlyphs">COLOCACIÓN</text>
<text x="93.00" y="266.80" font-size="6.9" fill="#2e2e2e" font-style="normal" font-weight="normal" stroke="#2e2e2e" stroke-width="0.27" textLength="34.60" lengthAdjust="spacingAndGlyphs">VERTICAL</text>
<rect x="19.50" y="184.60" width="55.00" height="7.00" fill="#f0f0f0" />
<text x="20.20" y="190.60" font-size="6.6" fill="#555" font-style="normal" font-weight="normal" stroke="#555" stroke-width="0.2" textLength="53.50" lengthAdjust="spacingAndGlyphs">ACCESO NUCLEOS</text>
<rect x="27.00" y="191.40" width="38.40" height="9.60" fill="#ececec" />
<text x="36.90" y="200.20" font-size="9.8" fill="#262626" font-style="normal" font-weight="normal" stroke="#262626" stroke-width="0.2" textLength="27.40" lengthAdjust="spacingAndGlyphs">ø 1.50</text>
<text x="29.10" y="196.50" font-size="6.4" fill="#3a3a3a" font-style="normal" font-weight="normal" stroke="#3a3a3a" stroke-width="0.2" textLength="6.80" lengthAdjust="spacingAndGlyphs">VE</text>
<text x="63.3" y="196" font-size="5" fill="#444">s</text>
<text x="588.00" y="196.00" font-size="5" fill="#555" font-style="normal" font-weight="normal" stroke="#555" stroke-width="0.2" textLength="34.00" lengthAdjust="spacingAndGlyphs">VERTICALES</text>
<rect x="580.30" y="184.80" width="54.40" height="6.40" fill="#f3f3f3" />
<text x="581.00" y="190.40" font-size="6.4" fill="#2e2e2e" font-style="normal" font-weight="normal" stroke="#2e2e2e" stroke-width="0.27" textLength="53.00" lengthAdjust="spacingAndGlyphs">ACCESO NUCLEOS</text>
<rect x="593.00" y="193.20" width="27.80" height="9.60" fill="#f3f3f3" />
<text x="594.40" y="202.30" font-size="10.2" fill="#1f1f1f" font-style="normal" font-weight="normal" stroke="#1f1f1f" stroke-width="0.28" textLength="26.00" lengthAdjust="spacingAndGlyphs">ø 1.50</text>
<text x="620.8" y="196.6" font-size="5" fill="#333">s</text>
<rect x="654.00" y="196.30" width="53.40" height="6.60" fill="#f3f3f3" />
<text x="654.60" y="202.20" font-size="6.5" fill="#2e2e2e" font-style="normal" font-weight="normal" stroke="#2e2e2e" stroke-width="0.27" textLength="52.00" lengthAdjust="spacingAndGlyphs">SALA DE MAQUINA</text>
<rect x="654.60" y="255.40" width="40.60" height="6.40" fill="#f3f3f3" />
<rect x="657.00" y="262.60" width="36.00" height="6.40" fill="#f3f3f3" />
<text x="655.20" y="261.20" font-size="6.3" fill="#2e2e2e" font-style="normal" font-weight="normal" stroke="#2e2e2e" stroke-width="0.27" textLength="39.60" lengthAdjust="spacingAndGlyphs">ESPACIO PARA</text>
<text x="657.80" y="268.50" font-size="6.3" fill="#2e2e2e" font-style="normal" font-weight="normal" stroke="#2e2e2e" stroke-width="0.27" textLength="34.40" lengthAdjust="spacingAndGlyphs">GENERADOR</text>
</g>
<g id="legend">
<text x="-1.50" y="439.60" font-size="17.6" fill="#111" font-style="normal" font-weight="normal" stroke="#111" stroke-width="0.3" textLength="408.80" lengthAdjust="spacingAndGlyphs">AUTO CHICO (medida de auto max. 4,2 x 1,75)</text>
<text x="412.30" y="439.60" font-size="17.6" fill="#111" font-style="italic" font-weight="normal" stroke="#111" stroke-width="0.28" textLength="414.40" lengthAdjust="spacingAndGlyphs">Ej: Toyota Yaris/ Chevrolet Onix / Peugeot 208 /</text>
<text x="5.40" y="460.70" font-size="17.6" fill="#111" font-style="italic" font-weight="normal" stroke="#111" stroke-width="0.28" textLength="237.30" lengthAdjust="spacingAndGlyphs">Polo /Renault Clio /Sandero</text>
<text x="-1.50" y="492.50" font-size="17.6" fill="#111" font-style="normal" font-weight="normal" stroke="#111" stroke-width="0.3" textLength="431.50" lengthAdjust="spacingAndGlyphs">AUTO MEDIANO (medida de auto max.4,6 x 1,80)</text>
<text x="439.30" y="492.50" font-size="17.6" fill="#111" font-style="italic" font-weight="normal" stroke="#111" stroke-width="0.28" textLength="382.40" lengthAdjust="spacingAndGlyphs">Ej:Toyota Corolla / Honda Civic/ Volkswagen</text>
<text x="-6.60" y="513.20" font-size="17.6" fill="#111" font-style="italic" font-weight="normal" stroke="#111" stroke-width="0.28" textLength="261.10" lengthAdjust="spacingAndGlyphs">eot 308 - 408 /Chevrolet Cruze</text>
<text x="-1.50" y="542.00" font-size="17.6" fill="#111" font-style="normal" font-weight="normal" stroke="#111" stroke-width="0.3" textLength="434.50" lengthAdjust="spacingAndGlyphs">AUTO GRANDE (medida de auto max.5,33 x 1,85)</text>
<text x="443.00" y="542.00" font-size="17.6" fill="#111" font-style="italic" font-weight="normal" stroke="#111" stroke-width="0.28" textLength="327.70" lengthAdjust="spacingAndGlyphs">Ej:Toyota Camry / Volkswagen Passat</text>
<text x="-2.90" y="563.70" font-size="17.6" fill="#111" font-style="italic" font-weight="normal" stroke="#111" stroke-width="0.28" textLength="303.90" lengthAdjust="spacingAndGlyphs">ord / Mazda 6/Peugeot 508 / HILUX</text>
</g>
</svg></body></html>
